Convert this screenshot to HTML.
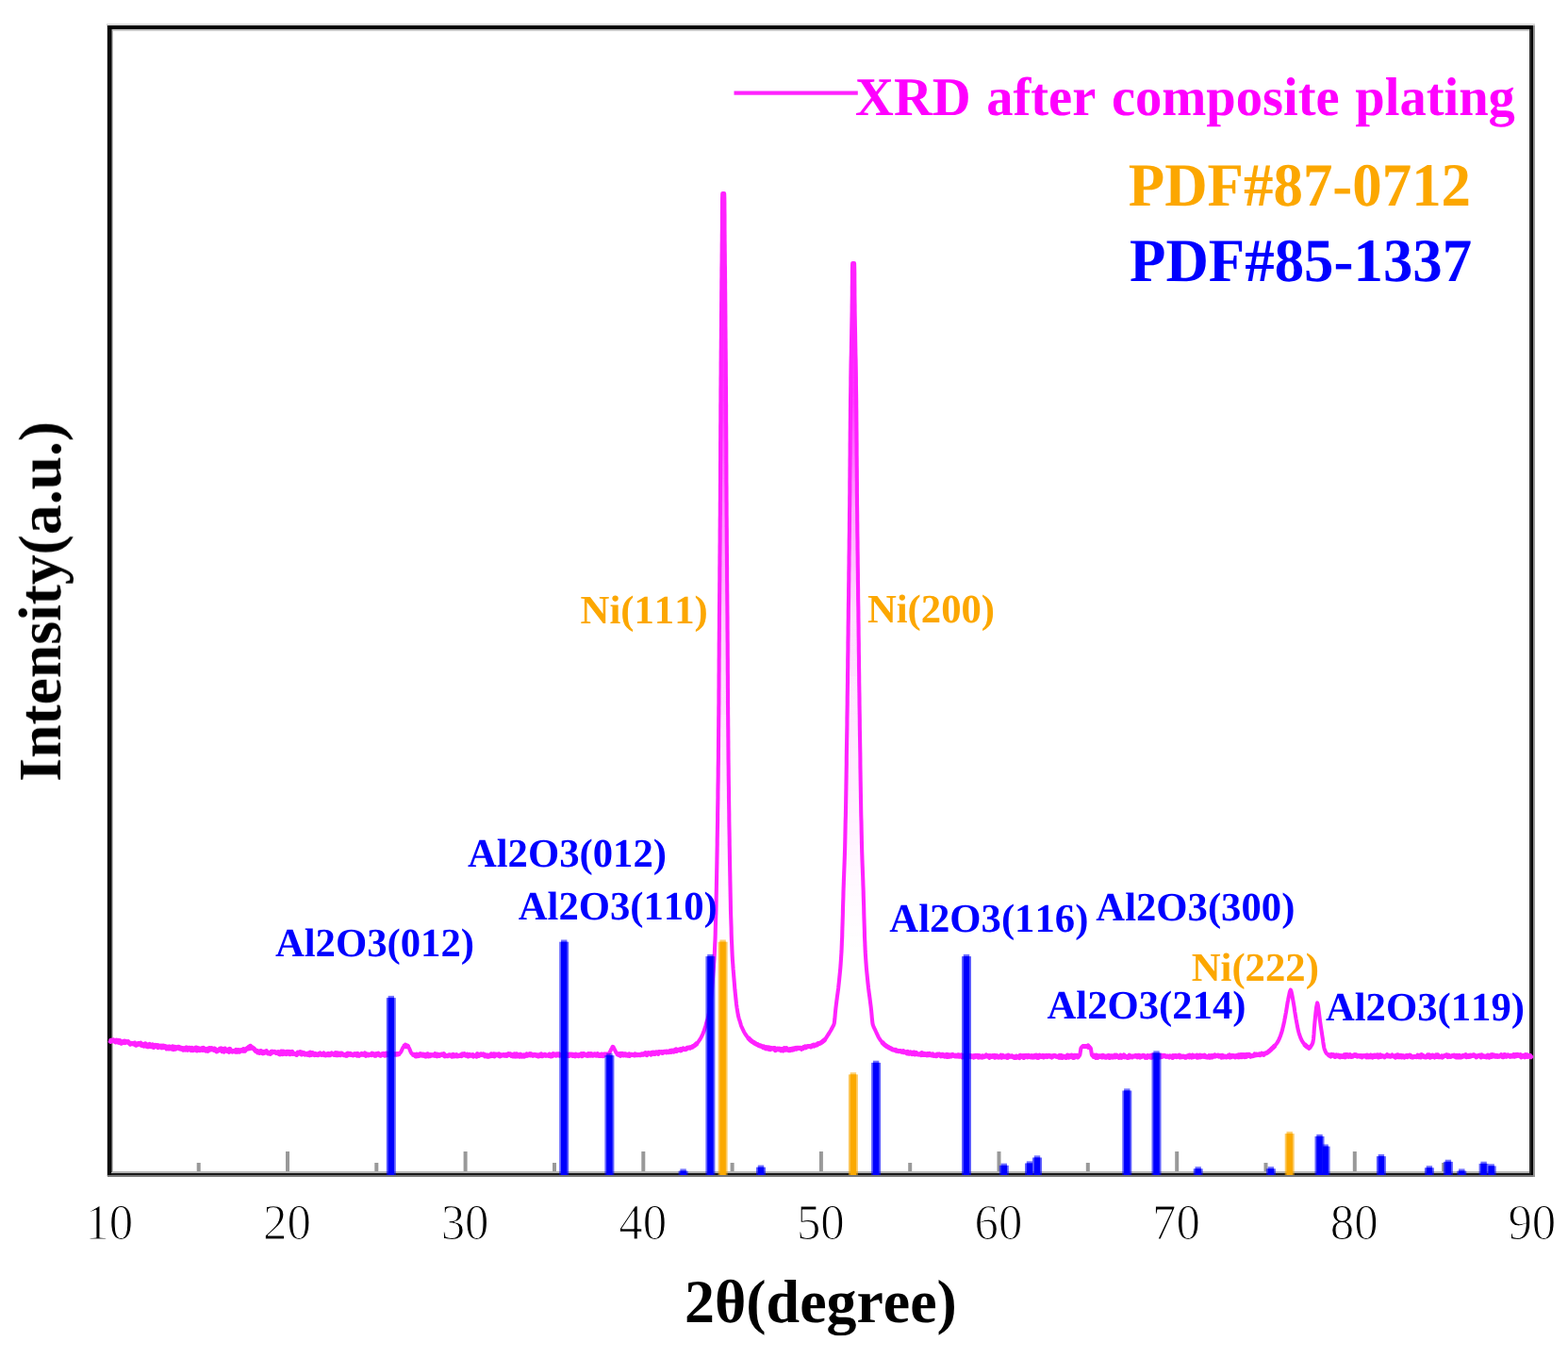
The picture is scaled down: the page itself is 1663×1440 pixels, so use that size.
<!DOCTYPE html>
<html lang="en">
<head>
<meta charset="utf-8">
<title>XRD after composite plating</title>
<style>
html,body{margin:0;padding:0;background:#fff;}
body{width:1663px;height:1440px;overflow:hidden;}
svg{display:block;}
svg text{font-family:"Liberation Serif","DejaVu Serif",serif;font-kerning:none;text-rendering:geometricPrecision;}
</style>
</head>
<body>
<svg width="1663" height="1440" viewBox="0 0 1663 1440">
<rect x="0" y="0" width="1663" height="1440" fill="#fff"/>
<g id="ticks">
<rect x="208.7" y="1233.0" width="4" height="10.0" fill="#999"/>
<rect x="303.0" y="1221.0" width="4" height="22.0" fill="#999"/>
<rect x="397.3" y="1233.0" width="4" height="10.0" fill="#999"/>
<rect x="491.6" y="1221.0" width="4" height="22.0" fill="#999"/>
<rect x="586.0" y="1233.0" width="4" height="10.0" fill="#999"/>
<rect x="680.3" y="1221.0" width="4" height="22.0" fill="#999"/>
<rect x="774.6" y="1233.0" width="4" height="10.0" fill="#999"/>
<rect x="868.9" y="1221.0" width="4" height="22.0" fill="#999"/>
<rect x="963.2" y="1233.0" width="4" height="10.0" fill="#999"/>
<rect x="1057.5" y="1221.0" width="4" height="22.0" fill="#999"/>
<rect x="1151.8" y="1233.0" width="4" height="10.0" fill="#999"/>
<rect x="1246.2" y="1221.0" width="4" height="22.0" fill="#999"/>
<rect x="1340.5" y="1233.0" width="4" height="10.0" fill="#999"/>
<rect x="1434.8" y="1221.0" width="4" height="22.0" fill="#999"/>
<rect x="1529.1" y="1233.0" width="4" height="10.0" fill="#999"/>
</g>
<g id="frame" shape-rendering="crispEdges">
<rect x="113" y="25" width="1515" height="2" fill="#d8d8d8"/>
<rect x="113" y="31" width="1515" height="2" fill="#c8c8c8"/>
<rect x="114" y="1242" width="1512" height="2" fill="#b5b5b5"/>
<rect x="114" y="1244" width="1513" height="2" fill="#1a1a1a"/>
<rect x="114" y="1246" width="1514" height="2" fill="#7a7a7a"/>
<rect x="113" y="26" width="1" height="1221" fill="#d0d0d0"/>
<rect x="119" y="31" width="1" height="1211" fill="#bdbdbd"/>
<rect x="118" y="31" width="1" height="1212" fill="#5a5a5a"/>
<rect x="114" y="27" width="4" height="1219" fill="#0a0a0a"/>
<rect x="114" y="27" width="1514" height="4" fill="#000"/>
<rect x="1622" y="31" width="2" height="1213" fill="#303030"/>
<rect x="1624" y="27" width="2" height="1219" fill="#000"/>
<rect x="1626" y="27" width="2" height="1221" fill="#959595"/>
</g>
<g id="legend-line"><rect x="778.5" y="96.5" width="131.3" height="4.2" fill="#ff22ff"/></g>
<defs>
<filter id="soft" x="-5%" y="-5%" width="110%" height="110%"><feGaussianBlur stdDeviation="0.55"/></filter>
<linearGradient id="g1" gradientUnits="userSpaceOnUse" x1="0" y1="205" x2="0" y2="1012">
<stop offset="0" stop-color="#ff22ff" stop-opacity="1"/>
<stop offset="0.27" stop-color="#ff22ff" stop-opacity="0.9"/>
<stop offset="0.415" stop-color="#ff22ff" stop-opacity="0.5"/>
<stop offset="0.565" stop-color="#ff22ff" stop-opacity="0.22"/>
<stop offset="0.71" stop-color="#ff22ff" stop-opacity="0.09"/>
<stop offset="0.86" stop-color="#ff22ff" stop-opacity="0.04"/>
<stop offset="1" stop-color="#ff22ff" stop-opacity="0"/>
</linearGradient>
<linearGradient id="g2" gradientUnits="userSpaceOnUse" x1="0" y1="279" x2="0" y2="1009">
<stop offset="0" stop-color="#ff22ff" stop-opacity="1"/>
<stop offset="0.19" stop-color="#ff22ff" stop-opacity="0.9"/>
<stop offset="0.36" stop-color="#ff22ff" stop-opacity="0.36"/>
<stop offset="0.52" stop-color="#ff22ff" stop-opacity="0.14"/>
<stop offset="0.69" stop-color="#ff22ff" stop-opacity="0.08"/>
<stop offset="0.85" stop-color="#ff22ff" stop-opacity="0.04"/>
<stop offset="1" stop-color="#ff22ff" stop-opacity="0"/>
</linearGradient>
</defs>
<g id="trace" filter="url(#soft)">
<path d="M766.3 205.0 L765.8 250.0 L765.0 340.0 L764.4 420.0 L763.8 540.0 L762.9 660.0 L762.1 780.0 L760.6 900.0 L759.5 960.0 L757.8 1012.0 L776.6 1012.0 L774.9 960.0 L773.8 900.0 L772.3 780.0 L771.5 660.0 L770.6 540.0 L770.0 420.0 L769.4 340.0 L768.6 250.0 L768.1 205.0Z" fill="url(#g1)"/>
<path d="M904.2 279.0 L903.7 320.0 L902.1 420.0 L901.1 540.0 L899.7 660.0 L898.2 780.0 L896.1 900.0 L894.7 940.0 L892.5 1009.0 L917.7 1009.0 L915.5 940.0 L914.1 900.0 L912.0 780.0 L910.5 660.0 L909.1 540.0 L908.1 420.0 L906.5 320.0 L906.0 279.0Z" fill="url(#g2)"/>
<path id="xrd" d="M115.6 1102.9 L116.4 1103.3 L117.2 1104.3 L117.9 1103.3 L118.7 1103.5 L119.5 1103.8 L120.3 1102.9 L121.1 1103.9 L121.8 1104.3 L122.6 1104.8 L123.4 1103.1 L124.2 1103.8 L125.0 1103.3 L125.8 1105.3 L126.5 1105.1 L127.3 1103.6 L128.0 1106.1 L128.8 1106.2 L129.6 1105.5 L130.3 1105.5 L131.1 1104.4 L131.9 1104.1 L132.7 1105.6 L133.4 1104.4 L134.2 1104.9 L135.0 1105.1 L135.8 1104.6 L136.5 1105.9 L137.3 1105.9 L138.1 1107.1 L138.9 1106.3 L139.7 1106.7 L140.4 1106.4 L141.2 1106.9 L142.0 1106.4 L142.8 1106.0 L143.6 1108.1 L144.4 1108.2 L145.2 1107.8 L146.0 1107.6 L146.7 1106.6 L147.5 1106.5 L148.2 1106.7 L149.0 1106.2 L149.7 1108.2 L150.5 1107.3 L151.2 1108.6 L152.0 1107.5 L152.7 1109.1 L153.5 1108.9 L154.2 1106.8 L155.0 1107.4 L155.7 1109.4 L156.5 1108.3 L157.2 1109.8 L158.0 1108.3 L158.7 1107.5 L159.5 1109.1 L160.2 1109.6 L160.9 1108.3 L161.7 1107.9 L162.4 1108.7 L163.1 1110.5 L163.9 1110.0 L164.6 1108.4 L165.3 1108.8 L166.1 1108.5 L166.8 1108.5 L167.6 1110.6 L168.4 1108.9 L169.2 1110.1 L170.0 1109.9 L170.7 1109.2 L171.4 1110.8 L172.2 1109.1 L172.9 1110.7 L173.7 1109.2 L174.4 1110.2 L175.2 1109.6 L176.0 1109.9 L176.8 1112.0 L177.6 1111.5 L178.4 1110.1 L179.2 1111.9 L180.0 1110.0 L180.8 1110.6 L181.6 1112.0 L182.4 1111.4 L183.2 1109.9 L184.0 1112.6 L184.8 1110.3 L185.6 1110.5 L186.4 1112.1 L187.2 1110.8 L188.0 1110.8 L188.8 1110.2 L189.6 1110.3 L190.3 1111.8 L191.1 1110.8 L191.9 1112.0 L192.6 1111.3 L193.4 1111.6 L194.2 1113.2 L194.9 1111.8 L195.7 1112.1 L196.5 1113.0 L197.2 1111.0 L198.0 1110.9 L198.8 1113.3 L199.6 1113.1 L200.3 1111.3 L201.1 1111.2 L201.9 1113.0 L202.7 1113.6 L203.5 1111.3 L204.3 1113.7 L205.2 1113.6 L206.0 1112.7 L206.7 1112.2 L207.4 1111.2 L208.2 1111.0 L208.9 1114.0 L209.7 1111.7 L210.4 1113.2 L211.2 1111.9 L211.9 1113.7 L212.7 1113.0 L213.5 1112.1 L214.2 1111.7 L215.0 1113.5 L215.8 1111.4 L216.6 1112.0 L217.4 1113.1 L218.1 1114.0 L218.9 1113.3 L219.7 1112.3 L220.5 1114.3 L221.3 1112.1 L222.1 1111.5 L222.9 1112.3 L223.7 1112.9 L224.5 1111.7 L225.3 1112.1 L226.1 1112.8 L226.9 1113.4 L227.6 1112.0 L228.4 1112.8 L229.2 1114.5 L230.0 1114.9 L230.8 1113.8 L231.6 1114.0 L232.4 1113.6 L233.2 1112.2 L234.1 1111.9 L235.0 1111.9 L235.8 1114.8 L236.7 1114.1 L237.6 1115.0 L238.5 1112.0 L239.4 1114.0 L240.3 1113.5 L241.2 1114.4 L242.1 1113.1 L243.0 1115.3 L243.8 1112.3 L244.7 1113.9 L245.5 1114.5 L246.4 1115.1 L247.2 1114.5 L248.0 1114.5 L248.8 1114.8 L249.5 1115.2 L250.3 1113.4 L251.0 1114.5 L251.7 1115.2 L252.3 1115.1 L252.9 1113.6 L253.5 1114.9 L254.0 1115.1 L254.5 1114.1 L255.0 1114.3 L255.9 1113.5 L256.8 1114.1 L257.5 1114.2 L258.2 1112.6 L258.9 1114.1 L259.5 1114.3 L260.1 1113.6 L260.7 1113.0 L261.2 1112.5 L261.7 1111.9 L262.3 1111.6 L262.9 1111.3 L263.5 1111.8 L264.2 1110.0 L264.9 1111.7 L265.5 1109.3 L266.2 1111.2 L266.8 1111.0 L267.5 1110.7 L268.1 1111.6 L268.7 1111.6 L269.2 1111.9 L269.7 1112.5 L270.1 1113.1 L270.5 1113.7 L271.0 1114.3 L271.5 1114.6 L272.1 1114.5 L272.7 1114.3 L273.4 1116.0 L274.1 1115.6 L275.0 1115.1 L275.4 1116.4 L275.9 1114.9 L276.4 1115.9 L276.9 1114.6 L277.5 1115.3 L278.1 1116.5 L278.8 1116.9 L279.5 1116.8 L280.2 1115.3 L280.9 1116.0 L281.7 1115.2 L282.5 1114.7 L283.3 1115.8 L284.1 1116.9 L285.0 1117.0 L285.8 1116.6 L286.7 1117.4 L287.6 1115.3 L288.5 1115.0 L289.4 1115.9 L290.3 1115.4 L291.2 1115.3 L292.1 1115.9 L293.0 1116.6 L293.9 1116.3 L294.8 1115.7 L295.7 1117.4 L296.6 1117.9 L297.5 1116.3 L298.3 1115.1 L299.2 1115.0 L300.0 1117.7 L300.8 1115.1 L301.5 1117.2 L302.3 1116.8 L303.0 1116.0 L303.8 1117.6 L304.5 1115.2 L305.3 1115.6 L306.0 1116.6 L306.8 1115.3 L307.5 1117.8 L308.3 1116.0 L309.0 1115.7 L309.8 1115.4 L310.5 1117.3 L311.3 1116.8 L312.1 1117.4 L312.8 1117.5 L313.6 1118.0 L314.4 1118.5 L315.1 1117.7 L315.9 1116.2 L316.7 1117.1 L317.5 1116.1 L318.3 1115.6 L319.1 1117.1 L319.9 1117.9 L320.7 1116.2 L321.5 1116.6 L322.3 1116.8 L323.2 1118.0 L324.0 1117.4 L324.8 1117.8 L325.7 1118.2 L326.5 1117.1 L327.4 1118.4 L328.2 1118.8 L329.1 1116.1 L330.0 1118.5 L330.7 1118.1 L331.4 1116.6 L332.1 1117.4 L332.8 1117.9 L333.5 1118.6 L334.3 1117.3 L335.0 1117.8 L335.8 1118.5 L336.5 1118.3 L337.3 1118.7 L338.0 1117.6 L338.8 1118.0 L339.6 1116.9 L340.4 1118.2 L341.1 1118.5 L341.9 1118.0 L342.7 1118.2 L343.5 1117.0 L344.3 1118.7 L345.1 1118.9 L345.9 1118.9 L346.8 1117.9 L347.6 1118.5 L348.4 1117.4 L349.2 1118.8 L350.0 1118.7 L350.9 1117.5 L351.7 1116.8 L352.5 1117.7 L353.4 1118.0 L354.2 1118.5 L355.0 1117.9 L355.9 1116.7 L356.7 1118.7 L357.5 1116.8 L358.4 1118.7 L359.2 1117.1 L360.0 1117.5 L360.9 1118.7 L361.7 1117.1 L362.5 1117.1 L363.4 1118.0 L364.2 1118.5 L365.0 1118.8 L365.8 1118.5 L366.7 1119.1 L367.5 1118.0 L368.3 1119.1 L369.1 1117.0 L369.9 1117.4 L370.7 1118.1 L371.5 1117.5 L372.3 1118.6 L373.1 1118.4 L373.9 1118.1 L374.7 1118.9 L375.5 1118.2 L376.2 1117.6 L377.0 1117.8 L377.8 1118.9 L378.5 1119.1 L379.3 1117.4 L380.0 1119.0 L380.9 1119.3 L381.7 1118.2 L382.6 1118.3 L383.5 1117.4 L384.4 1118.2 L385.3 1118.1 L386.2 1118.4 L387.1 1117.0 L388.1 1119.3 L389.0 1118.2 L389.9 1117.9 L390.9 1118.9 L391.8 1118.3 L392.8 1118.1 L393.7 1118.6 L394.7 1117.1 L395.6 1118.2 L396.5 1117.9 L397.5 1119.3 L398.4 1119.2 L399.3 1117.6 L400.2 1118.1 L401.2 1117.2 L402.0 1118.0 L402.9 1119.0 L403.8 1119.2 L404.7 1118.1 L405.5 1117.7 L406.4 1117.4 L407.2 1118.5 L408.0 1119.2 L408.8 1117.3 L409.5 1118.9 L410.3 1117.0 L411.0 1117.4 L411.7 1117.5 L412.4 1118.7 L413.0 1117.8 L413.7 1117.8 L414.3 1118.5 L414.8 1117.2 L415.4 1118.8 L415.9 1117.3 L416.4 1118.2 L416.8 1117.6 L417.3 1117.4 L417.6 1118.3 L418.0 1118.0 L418.9 1117.9 L419.6 1118.0 L420.3 1118.2 L420.9 1117.4 L421.5 1117.5 L422.1 1118.0 L422.8 1117.7 L423.4 1117.3 L424.0 1116.9 L424.5 1116.5 L425.4 1115.1 L426.2 1113.3 L427.0 1111.6 L427.4 1110.9 L427.9 1110.1 L428.4 1109.5 L428.9 1109.0 L429.4 1109.2 L430.1 1108.2 L430.9 1109.8 L431.6 1109.2 L432.1 1109.0 L432.6 1109.5 L433.1 1110.1 L433.6 1110.9 L434.0 1111.6 L434.8 1113.4 L435.6 1115.4 L436.5 1117.0 L437.0 1117.5 L437.6 1118.0 L438.2 1118.4 L438.9 1118.2 L439.5 1118.4 L440.1 1119.2 L440.7 1119.8 L441.4 1120.0 L442.1 1118.0 L443.0 1118.9 L443.4 1119.5 L443.7 1118.9 L444.2 1119.4 L444.6 1118.1 L445.1 1117.8 L445.6 1117.9 L446.2 1117.7 L446.7 1119.0 L447.3 1118.9 L447.9 1119.1 L448.6 1118.0 L449.3 1118.1 L449.9 1118.2 L450.7 1119.8 L451.4 1120.1 L452.1 1120.0 L452.9 1117.9 L453.7 1117.8 L454.5 1120.0 L455.3 1118.8 L456.2 1119.6 L457.0 1118.5 L457.9 1118.8 L458.8 1118.9 L459.7 1118.7 L460.6 1119.2 L461.5 1117.7 L462.4 1119.4 L463.3 1119.8 L464.2 1118.1 L465.2 1118.8 L466.1 1119.5 L467.0 1118.7 L468.0 1118.1 L468.9 1118.1 L469.9 1118.9 L470.8 1117.7 L471.8 1119.9 L472.7 1119.7 L473.6 1119.4 L474.6 1119.8 L475.5 1119.2 L476.4 1118.7 L477.3 1119.1 L478.2 1118.9 L479.1 1120.1 L480.0 1119.7 L480.7 1118.3 L481.4 1119.9 L482.1 1119.5 L482.8 1119.6 L483.6 1119.7 L484.3 1118.7 L485.0 1119.9 L485.8 1119.8 L486.5 1119.4 L487.3 1119.6 L488.0 1119.6 L488.8 1118.7 L489.5 1119.5 L490.3 1117.8 L491.0 1118.5 L491.8 1118.8 L492.6 1117.7 L493.4 1118.5 L494.1 1119.2 L494.9 1119.2 L495.7 1118.2 L496.5 1120.0 L497.3 1119.3 L498.1 1118.5 L498.9 1119.3 L499.7 1119.1 L500.5 1119.0 L501.3 1118.6 L502.1 1120.1 L502.9 1119.3 L503.7 1119.4 L504.6 1119.6 L505.4 1120.1 L506.2 1117.7 L507.0 1119.2 L507.8 1119.5 L508.7 1118.3 L509.5 1118.7 L510.3 1117.8 L511.1 1118.1 L512.0 1118.6 L512.8 1117.9 L513.6 1118.3 L514.5 1119.9 L515.3 1119.0 L516.1 1118.9 L516.9 1120.1 L517.8 1119.1 L518.6 1120.1 L519.4 1119.2 L520.3 1119.7 L521.1 1117.8 L521.9 1119.1 L522.8 1119.5 L523.6 1117.8 L524.4 1120.0 L525.3 1118.0 L526.1 1118.8 L526.9 1118.1 L527.8 1118.9 L528.6 1119.2 L529.4 1117.8 L530.2 1120.0 L531.1 1118.7 L531.9 1119.0 L532.7 1119.1 L533.5 1118.6 L534.3 1118.4 L535.2 1119.3 L536.0 1119.1 L536.8 1118.4 L537.6 1119.4 L538.4 1118.4 L539.2 1117.7 L540.0 1118.3 L540.8 1117.8 L541.6 1118.0 L542.4 1119.5 L543.2 1118.6 L544.0 1119.9 L544.8 1119.5 L545.6 1117.8 L546.4 1120.1 L547.2 1120.0 L548.0 1117.8 L548.8 1119.9 L549.6 1118.7 L550.4 1118.8 L551.2 1120.1 L552.0 1118.2 L552.9 1118.9 L553.7 1120.0 L554.5 1119.4 L555.3 1118.8 L556.1 1120.1 L556.9 1119.7 L557.7 1119.1 L558.6 1117.9 L559.4 1119.2 L560.2 1118.8 L561.0 1118.1 L561.8 1117.7 L562.6 1118.9 L563.5 1117.9 L564.3 1118.7 L565.1 1119.3 L565.9 1118.7 L566.7 1118.3 L567.5 1119.0 L568.3 1118.6 L569.2 1119.5 L570.0 1118.9 L570.8 1120.1 L571.6 1119.9 L572.4 1119.4 L573.2 1118.2 L574.0 1117.9 L574.8 1119.8 L575.6 1119.5 L576.4 1119.1 L577.2 1118.5 L578.0 1118.2 L578.8 1119.3 L579.6 1119.0 L580.4 1119.0 L581.2 1119.1 L582.0 1119.4 L582.8 1118.0 L583.5 1118.1 L584.3 1120.0 L585.1 1119.8 L585.9 1119.7 L586.7 1117.6 L587.4 1117.7 L588.2 1118.2 L589.0 1118.6 L589.7 1119.1 L590.5 1117.8 L591.2 1118.8 L592.0 1117.7 L592.7 1117.7 L593.5 1119.2 L594.2 1118.9 L594.9 1119.0 L595.7 1118.4 L596.4 1118.7 L597.1 1118.0 L597.9 1118.3 L598.6 1119.3 L599.3 1119.5 L600.0 1117.6 L600.9 1117.8 L601.7 1119.5 L602.6 1119.0 L603.5 1119.4 L604.4 1118.0 L605.3 1118.5 L606.2 1118.1 L607.2 1119.4 L608.1 1118.3 L609.0 1119.1 L609.9 1119.9 L610.9 1118.2 L611.8 1118.8 L612.7 1119.3 L613.6 1119.7 L614.6 1118.5 L615.5 1118.3 L616.4 1117.6 L617.3 1119.6 L618.3 1117.6 L619.2 1117.6 L620.1 1118.8 L621.0 1118.6 L621.9 1119.1 L622.7 1118.1 L623.6 1119.3 L624.5 1117.6 L625.3 1117.9 L626.1 1119.0 L627.0 1117.6 L627.8 1118.1 L628.6 1119.2 L629.4 1119.1 L630.1 1118.1 L630.9 1117.7 L631.6 1118.2 L632.3 1119.1 L633.0 1118.2 L633.7 1117.6 L634.4 1119.1 L635.0 1118.7 L635.6 1119.6 L636.2 1119.6 L636.8 1119.6 L637.3 1118.4 L637.8 1119.3 L638.3 1118.0 L638.8 1118.1 L639.2 1118.3 L639.6 1119.6 L640.0 1119.4 L641.0 1117.9 L641.8 1118.1 L642.6 1118.1 L643.3 1118.1 L643.9 1118.1 L644.5 1118.1 L645.1 1117.9 L645.6 1117.4 L646.1 1116.7 L646.6 1116.0 L647.3 1114.7 L647.9 1113.2 L648.6 1112.0 L649.1 1111.5 L649.5 1111.2 L650.0 1110.4 L650.5 1111.0 L650.9 1111.5 L651.4 1112.0 L652.1 1113.2 L652.7 1114.7 L653.4 1116.0 L653.8 1116.6 L654.3 1117.2 L654.8 1117.7 L655.4 1118.2 L656.0 1117.8 L656.6 1117.6 L657.2 1118.9 L657.9 1119.3 L658.6 1117.4 L659.4 1118.7 L660.3 1117.5 L661.1 1119.0 L662.0 1118.8 L662.6 1117.8 L663.3 1117.7 L664.0 1119.0 L664.7 1118.4 L665.4 1119.0 L666.2 1118.1 L667.0 1117.9 L667.7 1119.4 L668.6 1118.6 L669.4 1118.2 L670.2 1118.2 L671.0 1118.6 L671.9 1118.6 L672.7 1119.0 L673.5 1117.8 L674.4 1118.7 L675.2 1118.3 L676.0 1118.7 L676.7 1118.6 L677.5 1118.6 L678.3 1118.7 L679.0 1118.8 L679.8 1118.1 L680.6 1117.8 L681.3 1118.2 L682.1 1118.3 L682.9 1117.4 L683.7 1117.4 L684.5 1116.7 L685.3 1118.0 L686.0 1118.6 L686.8 1117.1 L687.6 1116.6 L688.3 1116.7 L689.1 1117.1 L689.8 1116.8 L690.6 1118.2 L691.3 1116.2 L692.0 1116.7 L692.8 1116.2 L693.6 1117.3 L694.4 1117.5 L695.1 1116.2 L695.9 1115.9 L696.6 1116.6 L697.4 1116.8 L698.1 1117.4 L698.8 1115.5 L699.6 1115.6 L700.3 1115.7 L701.0 1115.7 L701.8 1115.6 L702.5 1116.5 L703.3 1116.2 L704.0 1115.4 L704.8 1115.2 L705.5 1115.3 L706.3 1115.0 L707.0 1115.9 L707.8 1115.0 L708.5 1115.3 L709.3 1115.7 L710.0 1114.9 L710.8 1114.4 L711.5 1115.4 L712.3 1115.3 L713.0 1114.1 L713.8 1114.4 L714.5 1115.0 L715.2 1114.0 L716.0 1113.4 L716.8 1112.9 L717.5 1114.5 L718.3 1114.1 L719.1 1113.2 L719.9 1113.4 L720.7 1113.3 L721.5 1112.7 L722.2 1113.9 L723.0 1113.2 L723.8 1112.3 L724.5 1111.8 L725.3 1112.5 L726.0 1112.2 L726.7 1112.8 L727.4 1112.5 L728.0 1112.2 L728.9 1111.3 L729.7 1111.1 L730.5 1111.1 L731.3 1110.8 L732.1 1111.2 L732.8 1110.6 L733.5 1110.4 L734.2 1110.3 L734.8 1109.6 L735.5 1109.3 L736.2 1108.9 L736.8 1108.5 L737.4 1108.0 L738.0 1107.5 L738.5 1107.0 L739.1 1106.5 L739.6 1106.0 L740.1 1105.4 L740.5 1104.8 L741.0 1104.2 L741.9 1102.9 L742.7 1101.6 L743.5 1100.2 L744.2 1098.8 L744.9 1097.4 L745.5 1096.0 L746.1 1094.5 L746.7 1093.0 L747.2 1091.5 L747.8 1089.7 L748.4 1088.0 L748.7 1086.7 L749.0 1085.4 L749.4 1084.0 L749.8 1082.6 L750.3 1081.2 L750.8 1079.6 L751.2 1078.0 L751.6 1076.3 L751.9 1074.5 L752.2 1072.7 L752.5 1070.8 L752.8 1069.0 L753.4 1064.7 L753.9 1060.0 L754.4 1055.1 L755.0 1049.3 L755.5 1043.1 L756.0 1037.0 L756.4 1032.2 L756.8 1027.5 L757.1 1022.7 L757.5 1017.6 L757.8 1012.0 L758.0 1007.1 L758.2 1001.8 L758.5 996.3 L758.7 990.4 L758.8 984.5 L759.0 978.3 L759.2 972.2 L759.4 966.0 L759.5 960.0 L759.6 954.8 L759.7 949.6 L759.8 944.5 L759.9 939.3 L760.0 934.1 L760.1 928.8 L760.2 923.4 L760.3 917.9 L760.4 912.1 L760.5 906.2 L760.6 900.0 L760.7 895.2 L760.7 890.3 L760.8 885.1 L760.9 879.8 L761.0 874.4 L761.1 868.9 L761.1 863.2 L761.2 857.4 L761.3 851.6 L761.4 845.7 L761.4 839.7 L761.5 833.7 L761.6 827.7 L761.7 821.6 L761.7 815.5 L761.8 809.5 L761.9 803.5 L761.9 797.5 L762.0 791.6 L762.0 785.8 L762.1 780.0 L762.1 774.3 L762.2 768.6 L762.2 762.9 L762.3 757.1 L762.3 751.4 L762.4 745.7 L762.4 740.0 L762.4 734.3 L762.5 728.6 L762.5 722.9 L762.5 717.1 L762.6 711.4 L762.6 705.7 L762.6 700.0 L762.7 694.3 L762.7 688.6 L762.7 682.9 L762.8 677.1 L762.8 671.4 L762.9 665.7 L762.9 660.0 L762.9 654.3 L763.0 648.6 L763.0 642.9 L763.1 637.1 L763.1 631.4 L763.2 625.7 L763.2 620.0 L763.3 614.3 L763.3 608.6 L763.3 602.9 L763.4 597.1 L763.4 591.4 L763.5 585.7 L763.5 580.0 L763.6 574.3 L763.6 568.6 L763.6 562.9 L763.7 557.1 L763.7 551.4 L763.8 545.7 L763.8 540.0 L763.8 534.3 L763.9 528.5 L763.9 522.6 L763.9 516.8 L764.0 510.9 L764.0 505.0 L764.0 499.1 L764.0 493.2 L764.1 487.3 L764.1 481.4 L764.1 475.5 L764.1 469.7 L764.2 463.9 L764.2 458.1 L764.2 452.5 L764.3 446.8 L764.3 441.3 L764.3 435.8 L764.3 430.5 L764.4 425.2 L764.4 420.0 L764.4 413.8 L764.5 407.8 L764.5 401.9 L764.6 396.1 L764.6 390.5 L764.6 384.9 L764.7 379.3 L764.7 373.8 L764.8 368.3 L764.8 362.7 L764.9 357.2 L764.9 351.5 L765.0 345.8 L765.0 340.0 L765.0 334.5 L765.1 328.8 L765.1 323.0 L765.2 317.1 L765.2 311.2 L765.3 305.2 L765.3 299.3 L765.4 293.3 L765.4 287.4 L765.5 281.6 L765.6 275.9 L765.6 270.4 L765.7 265.0 L765.7 259.7 L765.8 254.7 L765.8 250.0 L765.9 243.1 L765.9 235.6 L765.9 228.1 L766.0 221.0 L766.0 214.6 L766.1 209.6 L766.2 206.2 L766.3 205.0 L766.8 205.0 L767.6 205.0 L768.1 205.0 L768.2 206.2 L768.3 209.6 L768.4 214.6 L768.4 221.0 L768.5 228.1 L768.5 235.6 L768.5 243.1 L768.6 250.0 L768.6 254.7 L768.7 259.7 L768.7 265.0 L768.8 270.4 L768.8 275.9 L768.9 281.6 L769.0 287.4 L769.0 293.3 L769.1 299.3 L769.1 305.2 L769.2 311.2 L769.2 317.1 L769.3 323.0 L769.3 328.8 L769.4 334.5 L769.4 340.0 L769.4 345.8 L769.5 351.5 L769.5 357.2 L769.6 362.7 L769.6 368.3 L769.7 373.8 L769.7 379.3 L769.8 384.9 L769.8 390.5 L769.8 396.1 L769.9 401.9 L769.9 407.8 L770.0 413.8 L770.0 420.0 L770.0 425.2 L770.1 430.5 L770.1 435.8 L770.1 441.3 L770.1 446.8 L770.2 452.5 L770.2 458.1 L770.2 463.9 L770.3 469.7 L770.3 475.5 L770.3 481.4 L770.3 487.3 L770.4 493.2 L770.4 499.1 L770.4 505.0 L770.4 510.9 L770.5 516.8 L770.5 522.6 L770.5 528.5 L770.6 534.3 L770.6 540.0 L770.6 545.7 L770.7 551.4 L770.7 557.1 L770.8 562.9 L770.8 568.6 L770.8 574.3 L770.9 580.0 L770.9 585.7 L771.0 591.4 L771.0 597.1 L771.1 602.9 L771.1 608.6 L771.1 614.3 L771.2 620.0 L771.2 625.7 L771.3 631.4 L771.3 637.1 L771.4 642.9 L771.4 648.6 L771.5 654.3 L771.5 660.0 L771.5 665.7 L771.6 671.4 L771.6 677.1 L771.7 682.9 L771.7 688.6 L771.7 694.3 L771.8 700.0 L771.8 705.7 L771.8 711.4 L771.9 717.1 L771.9 722.9 L771.9 728.6 L772.0 734.3 L772.0 740.0 L772.0 745.7 L772.1 751.4 L772.1 757.1 L772.2 762.9 L772.2 768.6 L772.3 774.3 L772.3 780.0 L772.4 785.8 L772.4 791.6 L772.5 797.5 L772.5 803.5 L772.6 809.5 L772.7 815.5 L772.7 821.6 L772.8 827.7 L772.9 833.7 L773.0 839.7 L773.0 845.7 L773.1 851.6 L773.2 857.4 L773.3 863.2 L773.3 868.9 L773.4 874.4 L773.5 879.8 L773.6 885.1 L773.7 890.3 L773.7 895.2 L773.8 900.0 L773.9 906.2 L774.0 912.1 L774.1 917.9 L774.2 923.4 L774.3 928.8 L774.4 934.1 L774.5 939.3 L774.6 944.5 L774.7 949.6 L774.8 954.8 L774.9 960.0 L775.0 966.0 L775.2 972.2 L775.4 978.3 L775.6 984.5 L775.7 990.4 L775.9 996.3 L776.2 1001.8 L776.4 1007.1 L776.6 1012.0 L776.9 1017.6 L777.3 1022.7 L777.6 1027.5 L778.0 1032.2 L778.4 1037.0 L778.9 1043.1 L779.4 1049.3 L780.0 1055.1 L780.5 1060.0 L781.0 1064.7 L781.6 1069.0 L781.9 1070.8 L782.2 1072.7 L782.5 1074.5 L782.8 1076.3 L783.2 1078.0 L783.6 1079.6 L784.1 1081.2 L784.6 1082.6 L785.0 1084.0 L785.4 1085.4 L785.8 1086.8 L786.2 1088.0 L786.8 1089.3 L787.4 1090.6 L788.1 1092.2 L789.0 1094.0 L790.0 1095.8 L790.4 1096.4 L790.8 1097.0 L791.2 1097.6 L791.7 1098.2 L792.1 1098.9 L792.6 1099.5 L793.2 1100.1 L793.7 1100.7 L794.3 1101.3 L794.8 1101.9 L795.4 1102.5 L796.0 1103.0 L796.5 1103.5 L797.1 1103.9 L797.7 1104.4 L798.3 1104.8 L799.0 1105.2 L799.6 1105.6 L800.3 1106.1 L800.9 1106.4 L801.6 1106.9 L802.3 1107.1 L803.0 1107.5 L803.7 1107.7 L804.3 1108.3 L805.0 1108.7 L805.7 1109.0 L806.5 1108.7 L807.2 1109.3 L807.9 1109.6 L808.6 1109.7 L809.4 1110.7 L810.1 1109.9 L810.9 1110.7 L811.6 1111.3 L812.4 1111.8 L813.2 1110.7 L814.0 1111.3 L814.7 1112.0 L815.4 1110.8 L816.1 1111.3 L816.9 1112.6 L817.7 1111.3 L818.4 1111.9 L819.2 1111.8 L820.0 1112.1 L820.8 1111.5 L821.5 1111.4 L822.3 1113.6 L823.1 1113.1 L823.8 1113.1 L824.6 1112.0 L825.3 1112.1 L826.0 1112.8 L826.8 1112.1 L827.6 1112.6 L828.3 1113.8 L829.1 1112.4 L829.8 1112.4 L830.6 1114.0 L831.3 1113.1 L832.0 1111.7 L832.8 1112.6 L833.5 1113.2 L834.3 1111.7 L835.0 1112.4 L835.8 1113.3 L836.5 1113.6 L837.3 1112.9 L838.0 1113.5 L838.8 1112.5 L839.5 1112.3 L840.3 1113.2 L841.0 1112.2 L841.8 1112.9 L842.5 1111.7 L843.3 1111.9 L844.0 1111.4 L844.8 1112.1 L845.5 1111.3 L846.3 1111.3 L847.0 1111.2 L847.8 1111.6 L848.5 1111.2 L849.3 1111.4 L850.0 1112.3 L850.8 1111.6 L851.5 1111.8 L852.3 1110.5 L853.0 1110.7 L853.8 1110.0 L854.5 1110.9 L855.3 1110.2 L856.1 1109.9 L856.9 1109.4 L857.6 1109.4 L858.4 1109.4 L859.1 1109.4 L859.9 1110.0 L860.6 1109.5 L861.3 1108.7 L862.0 1108.6 L862.8 1108.1 L863.6 1109.0 L864.4 1108.0 L865.1 1108.3 L865.8 1108.0 L866.5 1108.0 L867.3 1106.8 L868.0 1106.9 L868.6 1106.7 L869.3 1106.2 L870.0 1106.1 L870.6 1105.7 L871.3 1105.3 L871.9 1104.8 L872.5 1104.4 L873.1 1103.9 L873.7 1103.5 L874.2 1103.0 L874.7 1102.5 L875.2 1102.0 L875.6 1101.4 L876.0 1100.8 L876.4 1100.2 L876.8 1099.5 L877.2 1098.9 L877.6 1098.2 L878.0 1097.6 L878.4 1097.0 L879.4 1095.5 L880.3 1094.0 L881.2 1092.5 L882.0 1091.0 L882.8 1089.5 L883.6 1088.1 L884.3 1086.6 L884.8 1085.0 L885.3 1080.8 L885.7 1076.0 L886.1 1071.8 L886.6 1067.3 L887.2 1062.5 L887.8 1057.7 L888.5 1052.7 L889.2 1047.3 L889.8 1041.7 L890.3 1036.8 L890.8 1031.8 L891.3 1026.5 L891.7 1021.0 L892.1 1015.2 L892.5 1009.0 L892.7 1004.1 L892.9 998.8 L893.2 993.2 L893.3 987.3 L893.5 981.2 L893.7 975.0 L893.9 968.7 L894.0 962.6 L894.2 956.5 L894.4 950.7 L894.5 945.2 L894.7 940.0 L894.9 933.9 L895.1 928.4 L895.3 923.1 L895.5 917.9 L895.7 912.5 L895.9 906.6 L896.1 900.0 L896.2 895.8 L896.3 891.2 L896.4 886.4 L896.5 881.4 L896.6 876.2 L896.7 870.7 L896.9 865.1 L897.0 859.3 L897.1 853.4 L897.2 847.3 L897.3 841.2 L897.4 835.0 L897.5 828.8 L897.6 822.5 L897.7 816.3 L897.8 810.0 L897.8 803.9 L897.9 797.7 L898.0 791.7 L898.1 785.8 L898.2 780.0 L898.3 774.3 L898.4 768.6 L898.4 762.9 L898.5 757.1 L898.6 751.4 L898.7 745.7 L898.7 740.0 L898.8 734.3 L898.9 728.6 L899.0 722.9 L899.0 717.1 L899.1 711.4 L899.2 705.7 L899.2 700.0 L899.3 694.3 L899.4 688.6 L899.4 682.9 L899.5 677.1 L899.6 671.4 L899.6 665.7 L899.7 660.0 L899.8 654.3 L899.8 648.6 L899.9 642.9 L900.0 637.1 L900.1 631.4 L900.1 625.7 L900.2 620.0 L900.3 614.3 L900.3 608.6 L900.4 602.9 L900.5 597.1 L900.5 591.4 L900.6 585.7 L900.7 580.0 L900.7 574.3 L900.8 568.6 L900.9 562.9 L900.9 557.1 L901.0 551.4 L901.0 545.7 L901.1 540.0 L901.2 534.3 L901.2 528.5 L901.3 522.8 L901.3 517.0 L901.3 511.2 L901.4 505.4 L901.4 499.6 L901.5 493.8 L901.5 488.0 L901.6 482.2 L901.6 476.4 L901.6 470.7 L901.7 464.9 L901.7 459.2 L901.8 453.5 L901.8 447.8 L901.9 442.2 L901.9 436.6 L902.0 431.0 L902.0 425.5 L902.1 420.0 L902.2 413.8 L902.3 407.5 L902.3 401.2 L902.4 394.9 L902.5 388.5 L902.6 382.2 L902.8 375.9 L902.9 369.6 L903.0 363.5 L903.1 357.4 L903.2 351.5 L903.3 345.7 L903.4 340.2 L903.5 334.8 L903.6 329.6 L903.6 324.7 L903.7 320.0 L903.8 312.6 L903.8 304.7 L903.9 297.0 L903.9 290.0 L904.0 284.3 L904.1 280.4 L904.2 279.0 L904.7 279.0 L905.5 279.0 L906.0 279.0 L906.1 280.4 L906.2 284.3 L906.3 290.0 L906.3 297.0 L906.4 304.7 L906.4 312.6 L906.5 320.0 L906.6 324.7 L906.6 329.6 L906.7 334.8 L906.8 340.2 L906.9 345.7 L907.0 351.5 L907.1 357.4 L907.2 363.5 L907.3 369.6 L907.4 375.9 L907.6 382.2 L907.7 388.5 L907.8 394.9 L907.9 401.2 L907.9 407.5 L908.0 413.8 L908.1 420.0 L908.2 425.5 L908.2 431.0 L908.3 436.6 L908.3 442.2 L908.4 447.8 L908.4 453.5 L908.5 459.2 L908.5 464.9 L908.6 470.7 L908.6 476.4 L908.6 482.2 L908.7 488.0 L908.7 493.8 L908.8 499.6 L908.8 505.4 L908.9 511.2 L908.9 517.0 L908.9 522.8 L909.0 528.5 L909.0 534.3 L909.1 540.0 L909.2 545.7 L909.2 551.4 L909.3 557.1 L909.3 562.9 L909.4 568.6 L909.5 574.3 L909.5 580.0 L909.6 585.7 L909.7 591.4 L909.7 597.1 L909.8 602.9 L909.9 608.6 L909.9 614.3 L910.0 620.0 L910.1 625.7 L910.1 631.4 L910.2 637.1 L910.3 642.9 L910.4 648.6 L910.4 654.3 L910.5 660.0 L910.6 665.7 L910.6 671.4 L910.7 677.1 L910.8 682.9 L910.8 688.6 L910.9 694.3 L911.0 700.0 L911.0 705.7 L911.1 711.4 L911.2 717.1 L911.2 722.9 L911.3 728.6 L911.4 734.3 L911.5 740.0 L911.5 745.7 L911.6 751.4 L911.7 757.1 L911.8 762.9 L911.8 768.6 L911.9 774.3 L912.0 780.0 L912.1 785.8 L912.2 791.7 L912.3 797.7 L912.4 803.9 L912.4 810.0 L912.5 816.3 L912.6 822.5 L912.7 828.8 L912.8 835.0 L912.9 841.2 L913.0 847.3 L913.1 853.4 L913.2 859.3 L913.3 865.1 L913.5 870.7 L913.6 876.2 L913.7 881.4 L913.8 886.4 L913.9 891.2 L914.0 895.8 L914.1 900.0 L914.3 906.6 L914.5 912.5 L914.7 917.9 L914.9 923.1 L915.1 928.4 L915.3 933.9 L915.5 940.0 L915.7 945.2 L915.8 950.7 L916.0 956.5 L916.2 962.6 L916.3 968.7 L916.5 975.0 L916.7 981.2 L916.9 987.3 L917.0 993.2 L917.3 998.8 L917.5 1004.1 L917.7 1009.0 L918.1 1015.2 L918.5 1021.0 L918.9 1026.5 L919.4 1031.8 L919.9 1036.8 L920.4 1041.7 L921.0 1047.3 L921.7 1052.7 L922.4 1057.7 L923.0 1062.5 L923.6 1067.3 L924.1 1071.8 L924.5 1076.0 L924.9 1080.6 L925.4 1085.0 L925.8 1086.8 L926.5 1088.6 L927.3 1090.4 L928.2 1092.2 L929.0 1094.0 L929.7 1095.5 L930.5 1097.1 L931.2 1098.7 L932.0 1100.2 L932.9 1101.7 L933.8 1103.0 L934.3 1103.6 L934.8 1104.2 L935.3 1104.8 L935.8 1105.4 L936.3 1106.0 L936.9 1106.6 L937.4 1107.1 L938.0 1107.6 L938.6 1108.1 L939.2 1108.6 L939.8 1109.0 L940.4 1109.4 L941.0 1109.8 L941.6 1110.2 L942.3 1110.5 L942.9 1110.9 L943.6 1111.2 L944.2 1111.6 L944.9 1111.7 L945.6 1112.2 L946.3 1112.8 L947.0 1113.0 L947.7 1113.1 L948.4 1113.2 L949.1 1113.5 L949.8 1113.2 L950.6 1114.3 L951.3 1114.3 L952.1 1114.2 L952.8 1114.7 L953.6 1114.5 L954.4 1114.6 L955.2 1114.5 L956.0 1115.3 L956.7 1115.3 L957.4 1115.4 L958.1 1114.6 L958.9 1115.8 L959.6 1115.5 L960.4 1115.9 L961.1 1116.0 L961.9 1116.8 L962.6 1115.3 L963.4 1116.0 L964.2 1117.2 L965.0 1116.8 L965.7 1116.0 L966.5 1116.9 L967.2 1117.5 L968.0 1116.4 L968.7 1117.4 L969.5 1116.0 L970.2 1117.9 L971.0 1116.9 L971.7 1116.5 L972.5 1117.8 L973.2 1117.5 L974.0 1118.1 L974.7 1118.0 L975.5 1118.0 L976.2 1117.5 L977.0 1118.6 L977.7 1116.7 L978.5 1118.5 L979.2 1118.2 L980.0 1117.3 L980.7 1118.5 L981.5 1117.8 L982.2 1118.1 L983.0 1118.8 L983.7 1117.5 L984.5 1117.7 L985.2 1118.5 L986.0 1117.4 L986.7 1118.5 L987.5 1119.0 L988.2 1118.4 L989.0 1117.9 L989.7 1119.2 L990.5 1119.4 L991.2 1119.3 L992.0 1118.8 L992.7 1119.7 L993.5 1119.5 L994.2 1118.0 L995.0 1118.6 L995.7 1118.0 L996.4 1117.9 L997.2 1118.6 L997.9 1119.9 L998.6 1119.8 L999.4 1118.2 L1000.1 1118.4 L1000.9 1118.9 L1001.6 1120.0 L1002.4 1119.5 L1003.2 1120.2 L1004.0 1118.3 L1004.7 1120.5 L1005.4 1118.7 L1006.1 1119.7 L1006.8 1120.3 L1007.5 1120.0 L1008.2 1118.8 L1008.9 1119.9 L1009.6 1119.4 L1010.3 1118.4 L1011.1 1119.2 L1011.8 1119.2 L1012.6 1119.9 L1013.3 1119.1 L1014.1 1119.9 L1014.9 1120.1 L1015.7 1118.9 L1016.5 1118.8 L1017.3 1120.2 L1018.2 1119.7 L1019.1 1118.9 L1020.0 1118.9 L1020.6 1120.9 L1021.2 1120.1 L1021.9 1119.5 L1022.5 1119.1 L1023.2 1121.1 L1023.8 1120.3 L1024.5 1120.4 L1025.2 1119.5 L1025.9 1119.4 L1026.6 1119.7 L1027.4 1119.1 L1028.1 1120.2 L1028.8 1119.7 L1029.6 1120.7 L1030.4 1119.7 L1031.1 1119.9 L1031.9 1120.0 L1032.7 1121.1 L1033.5 1119.6 L1034.3 1120.5 L1035.1 1119.4 L1035.9 1120.2 L1036.7 1119.5 L1037.6 1121.0 L1038.4 1119.5 L1039.2 1120.9 L1040.1 1120.5 L1040.9 1120.0 L1041.7 1121.1 L1042.6 1119.8 L1043.4 1120.7 L1044.3 1120.3 L1045.1 1120.0 L1046.0 1119.0 L1046.8 1119.9 L1047.7 1119.6 L1048.5 1120.0 L1049.3 1121.3 L1050.2 1119.6 L1051.0 1120.6 L1051.9 1120.6 L1052.7 1119.5 L1053.5 1119.9 L1054.4 1119.3 L1055.2 1121.2 L1056.0 1119.6 L1056.8 1120.0 L1057.6 1119.8 L1058.4 1121.0 L1059.2 1121.1 L1060.0 1120.4 L1060.8 1120.3 L1061.6 1119.2 L1062.4 1121.2 L1063.1 1119.2 L1063.9 1119.9 L1064.7 1119.9 L1065.5 1120.8 L1066.3 1120.6 L1067.1 1119.8 L1067.8 1121.2 L1068.6 1121.4 L1069.4 1119.1 L1070.2 1120.6 L1071.0 1120.2 L1071.8 1119.9 L1072.5 1120.2 L1073.3 1119.8 L1074.1 1120.7 L1074.9 1120.5 L1075.7 1121.4 L1076.5 1121.4 L1077.3 1121.5 L1078.0 1120.0 L1078.8 1121.1 L1079.6 1120.6 L1080.4 1120.8 L1081.2 1121.5 L1082.0 1119.2 L1082.7 1120.2 L1083.5 1120.0 L1084.3 1120.7 L1085.1 1119.6 L1085.9 1121.5 L1086.7 1119.6 L1087.5 1120.0 L1088.2 1119.4 L1089.0 1120.0 L1089.8 1120.9 L1090.6 1119.3 L1091.4 1119.5 L1092.2 1120.7 L1092.9 1120.6 L1093.7 1120.9 L1094.5 1119.7 L1095.3 1121.1 L1096.1 1120.9 L1096.9 1121.0 L1097.6 1119.3 L1098.4 1120.2 L1099.2 1119.1 L1100.0 1121.2 L1100.8 1121.4 L1101.6 1121.3 L1102.5 1119.1 L1103.3 1119.9 L1104.2 1120.4 L1105.1 1120.4 L1106.0 1119.3 L1106.9 1121.0 L1107.8 1119.8 L1108.7 1120.3 L1109.7 1119.4 L1110.6 1120.5 L1111.6 1119.4 L1112.5 1119.3 L1113.5 1120.3 L1114.4 1119.8 L1115.4 1121.0 L1116.3 1119.7 L1117.3 1120.1 L1118.2 1119.2 L1119.2 1119.6 L1120.1 1120.2 L1121.0 1120.4 L1122.0 1120.2 L1122.9 1121.2 L1123.8 1119.3 L1124.7 1121.2 L1125.6 1119.4 L1126.5 1121.5 L1127.3 1120.4 L1128.2 1120.1 L1129.0 1120.6 L1129.8 1121.2 L1130.6 1121.5 L1131.4 1120.1 L1132.2 1119.1 L1132.9 1119.4 L1133.6 1121.1 L1134.3 1120.9 L1135.0 1120.8 L1135.6 1119.4 L1136.2 1120.4 L1136.8 1119.1 L1137.4 1119.3 L1137.9 1119.8 L1138.4 1121.5 L1138.8 1120.7 L1139.3 1121.2 L1139.6 1119.2 L1140.0 1120.1 L1140.9 1119.3 L1141.7 1119.7 L1142.4 1119.4 L1143.1 1120.9 L1143.6 1120.1 L1144.2 1120.0 L1144.7 1119.5 L1145.1 1118.9 L1145.4 1118.2 L1145.9 1114.9 L1146.4 1111.6 L1146.7 1111.0 L1147.1 1110.5 L1147.7 1110.1 L1148.2 1110.2 L1148.8 1109.4 L1149.4 1109.5 L1150.2 1109.6 L1150.9 1109.7 L1151.6 1109.5 L1152.3 1109.7 L1153.1 1109.7 L1153.9 1109.0 L1154.6 1110.5 L1155.2 1109.7 L1155.7 1110.3 L1156.2 1110.7 L1156.6 1111.2 L1156.9 1111.8 L1157.4 1115.1 L1157.9 1118.4 L1158.2 1119.0 L1158.7 1119.6 L1159.2 1120.0 L1159.8 1120.4 L1160.3 1120.2 L1160.9 1119.2 L1161.5 1120.1 L1162.3 1121.4 L1163.1 1119.1 L1164.0 1120.5 L1164.3 1121.4 L1164.7 1120.0 L1165.0 1120.5 L1165.4 1120.0 L1165.8 1119.8 L1166.3 1120.6 L1166.7 1120.5 L1167.2 1119.8 L1167.7 1120.3 L1168.2 1120.3 L1168.8 1120.9 L1169.3 1119.2 L1169.9 1119.3 L1170.5 1119.7 L1171.2 1119.7 L1171.8 1121.0 L1172.5 1120.1 L1173.1 1121.2 L1173.8 1120.0 L1174.5 1119.8 L1175.2 1120.7 L1176.0 1119.3 L1176.7 1121.5 L1177.5 1121.1 L1178.3 1119.9 L1179.1 1119.8 L1179.9 1121.1 L1180.7 1121.0 L1181.5 1120.6 L1182.3 1119.2 L1183.2 1120.9 L1184.0 1119.1 L1184.9 1120.6 L1185.8 1120.4 L1186.7 1121.3 L1187.6 1120.6 L1188.5 1119.1 L1189.4 1121.3 L1190.3 1120.9 L1191.2 1120.5 L1192.1 1119.0 L1193.1 1120.8 L1194.0 1120.0 L1194.9 1120.7 L1195.9 1121.5 L1196.8 1121.3 L1197.8 1119.2 L1198.7 1120.9 L1199.7 1120.1 L1200.6 1120.9 L1201.6 1119.9 L1202.5 1120.1 L1203.5 1120.1 L1204.4 1119.3 L1205.4 1119.8 L1206.3 1120.8 L1207.3 1119.2 L1208.2 1119.3 L1209.2 1121.1 L1210.1 1120.6 L1211.0 1120.3 L1212.0 1119.3 L1212.9 1119.3 L1213.8 1119.7 L1214.7 1121.3 L1215.6 1120.4 L1216.5 1121.3 L1217.4 1119.5 L1218.3 1120.0 L1219.1 1120.3 L1220.0 1121.0 L1220.7 1119.3 L1221.5 1121.1 L1222.2 1120.1 L1222.9 1119.0 L1223.7 1120.0 L1224.5 1119.9 L1225.2 1120.6 L1226.0 1121.3 L1226.8 1120.2 L1227.6 1120.7 L1228.4 1119.9 L1229.2 1120.9 L1230.0 1119.2 L1230.8 1120.8 L1231.6 1119.3 L1232.5 1120.4 L1233.3 1119.4 L1234.1 1119.8 L1235.0 1119.3 L1235.8 1119.8 L1236.7 1120.4 L1237.5 1120.2 L1238.4 1119.9 L1239.2 1120.4 L1240.1 1121.0 L1241.0 1119.8 L1241.8 1120.4 L1242.7 1120.1 L1243.6 1121.4 L1244.5 1119.7 L1245.3 1120.6 L1246.2 1119.5 L1247.1 1119.6 L1248.0 1120.7 L1248.9 1120.3 L1249.8 1119.5 L1250.7 1119.1 L1251.6 1121.0 L1252.4 1119.8 L1253.3 1120.7 L1254.2 1120.0 L1255.1 1120.4 L1256.0 1120.3 L1256.9 1121.3 L1257.8 1121.2 L1258.7 1120.0 L1259.6 1120.1 L1260.5 1119.5 L1261.3 1120.8 L1262.2 1119.1 L1263.1 1119.6 L1264.0 1121.0 L1264.9 1119.0 L1265.7 1120.6 L1266.6 1120.3 L1267.5 1120.2 L1268.3 1119.7 L1269.2 1119.2 L1270.0 1121.2 L1270.9 1120.8 L1271.8 1120.9 L1272.6 1119.1 L1273.4 1120.8 L1274.3 1119.4 L1275.1 1119.4 L1275.9 1120.2 L1276.8 1120.4 L1277.6 1119.1 L1278.4 1120.7 L1279.2 1120.3 L1280.0 1121.1 L1280.8 1121.1 L1281.6 1120.6 L1282.3 1119.7 L1283.1 1121.2 L1283.9 1120.6 L1284.6 1119.6 L1285.4 1121.0 L1286.1 1120.6 L1286.8 1119.5 L1287.6 1119.4 L1288.3 1118.9 L1289.0 1120.1 L1289.7 1119.4 L1290.4 1119.5 L1291.1 1119.4 L1291.7 1119.1 L1292.4 1120.0 L1293.0 1119.5 L1293.7 1119.5 L1294.3 1119.5 L1294.9 1120.1 L1295.5 1121.0 L1296.1 1119.2 L1296.7 1120.9 L1297.3 1120.9 L1297.9 1120.3 L1298.4 1120.1 L1299.0 1120.6 L1299.5 1120.1 L1300.0 1120.4 L1301.0 1121.0 L1301.9 1120.7 L1302.8 1119.4 L1303.7 1118.9 L1304.6 1121.0 L1305.4 1119.6 L1306.2 1120.6 L1307.0 1119.3 L1307.8 1119.8 L1308.5 1119.6 L1309.2 1120.4 L1310.0 1120.9 L1310.7 1119.8 L1311.4 1120.0 L1312.1 1119.4 L1312.8 1119.1 L1313.5 1120.8 L1314.2 1118.8 L1314.9 1120.7 L1315.6 1120.0 L1316.3 1118.6 L1317.0 1120.6 L1317.7 1118.7 L1318.5 1119.7 L1319.2 1118.6 L1320.0 1120.6 L1320.8 1119.0 L1321.6 1120.3 L1322.4 1118.4 L1323.2 1119.7 L1324.0 1118.3 L1324.8 1118.2 L1325.7 1119.4 L1326.5 1120.2 L1327.3 1119.5 L1328.2 1119.8 L1329.0 1119.6 L1329.9 1119.0 L1330.7 1117.9 L1331.5 1118.8 L1332.3 1118.0 L1333.1 1118.7 L1333.9 1118.2 L1334.7 1118.5 L1335.5 1117.8 L1336.2 1118.7 L1337.0 1118.0 L1337.7 1118.0 L1338.3 1117.2 L1339.0 1117.8 L1339.6 1117.8 L1340.2 1118.3 L1340.8 1117.6 L1341.6 1116.9 L1342.3 1116.9 L1343.1 1116.6 L1343.8 1116.3 L1344.4 1115.8 L1345.1 1115.4 L1345.7 1114.9 L1346.3 1114.3 L1346.9 1113.8 L1347.5 1113.3 L1348.1 1112.7 L1348.6 1112.2 L1349.2 1111.7 L1349.8 1111.2 L1350.3 1110.7 L1350.8 1110.2 L1351.3 1109.6 L1351.9 1109.1 L1352.4 1108.6 L1352.8 1108.0 L1353.3 1107.4 L1353.8 1106.8 L1354.2 1106.2 L1354.6 1105.6 L1355.0 1105.0 L1355.8 1103.5 L1356.6 1101.9 L1357.3 1100.2 L1358.0 1098.5 L1358.6 1096.7 L1359.2 1095.0 L1359.7 1093.4 L1360.1 1091.7 L1360.5 1090.1 L1360.9 1088.5 L1361.3 1086.8 L1361.7 1085.0 L1362.1 1083.2 L1362.4 1081.4 L1362.8 1079.5 L1363.2 1077.5 L1363.5 1075.6 L1363.9 1073.6 L1364.2 1071.7 L1364.5 1069.9 L1364.8 1068.1 L1365.1 1066.2 L1365.4 1064.3 L1365.7 1062.5 L1366.1 1060.7 L1366.4 1059.0 L1366.7 1057.5 L1367.2 1055.1 L1367.7 1052.7 L1368.2 1050.8 L1368.8 1049.6 L1369.3 1050.7 L1369.8 1052.6 L1370.3 1055.0 L1370.8 1057.5 L1371.6 1062.0 L1372.5 1067.3 L1373.3 1073.0 L1374.2 1078.3 L1374.5 1080.3 L1374.9 1082.2 L1375.2 1084.2 L1375.6 1086.1 L1375.9 1088.0 L1376.3 1089.9 L1376.7 1091.7 L1377.1 1093.4 L1377.5 1095.0 L1378.1 1096.9 L1378.7 1098.7 L1379.3 1100.4 L1380.1 1102.1 L1380.8 1103.6 L1381.7 1105.0 L1382.2 1105.7 L1382.7 1106.4 L1383.3 1107.1 L1383.9 1107.8 L1384.6 1108.5 L1385.3 1109.1 L1385.9 1109.6 L1386.6 1110.1 L1387.2 1110.3 L1387.8 1110.9 L1388.3 1111.3 L1388.9 1110.7 L1389.4 1110.4 L1390.0 1109.9 L1390.5 1109.2 L1391.0 1108.4 L1391.5 1107.6 L1391.9 1106.7 L1392.3 1105.9 L1392.5 1105.0 L1393.1 1101.2 L1393.5 1096.4 L1393.8 1091.3 L1394.2 1086.7 L1394.6 1082.3 L1395.0 1078.2 L1395.4 1074.2 L1396.2 1067.6 L1397.1 1063.4 L1397.8 1065.9 L1398.5 1070.9 L1399.3 1077.0 L1400.0 1082.5 L1400.8 1088.2 L1401.7 1093.8 L1402.5 1099.2 L1402.8 1101.1 L1403.1 1103.0 L1403.3 1105.0 L1403.6 1106.9 L1403.9 1108.7 L1404.2 1110.4 L1404.6 1112.0 L1405.0 1113.3 L1405.9 1115.4 L1407.0 1117.2 L1408.3 1118.3 L1408.9 1118.5 L1409.5 1118.8 L1410.1 1119.3 L1410.8 1119.1 L1411.6 1120.0 L1412.4 1118.4 L1413.2 1118.8 L1414.0 1118.5 L1414.7 1119.0 L1415.3 1120.1 L1416.0 1120.5 L1416.7 1119.5 L1417.4 1118.8 L1418.1 1119.2 L1418.8 1119.8 L1419.6 1119.1 L1420.4 1120.3 L1421.2 1120.8 L1422.1 1119.6 L1423.0 1119.9 L1424.0 1120.5 L1425.0 1119.6 L1425.5 1118.9 L1426.0 1120.8 L1426.5 1120.9 L1427.0 1118.5 L1427.6 1120.4 L1428.1 1119.5 L1428.7 1118.6 L1429.3 1118.9 L1429.9 1118.9 L1430.5 1120.3 L1431.1 1119.0 L1431.8 1118.6 L1432.4 1119.1 L1433.1 1120.5 L1433.8 1119.8 L1434.5 1120.2 L1435.2 1119.7 L1435.9 1119.0 L1436.6 1118.6 L1437.3 1119.3 L1438.1 1118.7 L1438.9 1119.2 L1439.6 1120.1 L1440.4 1119.5 L1441.2 1119.7 L1442.0 1120.1 L1442.8 1119.4 L1443.6 1119.5 L1444.4 1120.8 L1445.2 1120.0 L1446.1 1119.6 L1446.9 1119.9 L1447.8 1119.7 L1448.6 1119.4 L1449.5 1120.9 L1450.4 1119.2 L1451.2 1120.9 L1452.1 1120.7 L1453.0 1120.8 L1453.9 1119.0 L1454.8 1119.9 L1455.7 1121.1 L1456.6 1119.3 L1457.5 1119.0 L1458.4 1120.4 L1459.3 1119.2 L1460.2 1120.1 L1461.1 1119.0 L1462.0 1121.0 L1462.9 1119.3 L1463.8 1118.9 L1464.7 1120.4 L1465.6 1119.5 L1466.5 1120.0 L1467.5 1119.9 L1468.4 1120.9 L1469.3 1119.9 L1470.2 1119.6 L1471.1 1118.7 L1472.0 1119.9 L1472.9 1119.3 L1473.8 1120.1 L1474.7 1120.2 L1475.6 1119.8 L1476.5 1118.9 L1477.4 1119.9 L1478.3 1119.9 L1479.1 1120.3 L1480.0 1121.1 L1480.7 1119.4 L1481.4 1119.8 L1482.2 1118.9 L1482.9 1120.6 L1483.6 1119.2 L1484.4 1120.7 L1485.1 1120.6 L1485.8 1119.3 L1486.6 1120.9 L1487.3 1119.9 L1488.1 1119.7 L1488.9 1120.0 L1489.6 1121.0 L1490.4 1119.9 L1491.1 1119.9 L1491.9 1119.4 L1492.7 1120.7 L1493.4 1119.9 L1494.2 1119.5 L1495.0 1119.1 L1495.8 1119.2 L1496.6 1120.7 L1497.4 1120.7 L1498.1 1121.1 L1498.9 1120.9 L1499.7 1120.4 L1500.5 1120.6 L1501.3 1120.4 L1502.1 1120.7 L1502.9 1120.6 L1503.7 1119.1 L1504.5 1120.7 L1505.3 1119.4 L1506.1 1119.2 L1506.9 1120.9 L1507.7 1118.7 L1508.6 1119.9 L1509.4 1119.5 L1510.2 1120.6 L1511.0 1120.2 L1511.8 1120.9 L1512.6 1121.0 L1513.4 1120.2 L1514.3 1118.8 L1515.1 1120.3 L1515.9 1118.9 L1516.7 1121.1 L1517.5 1120.8 L1518.4 1119.4 L1519.2 1119.1 L1520.0 1120.4 L1520.8 1120.5 L1521.6 1121.1 L1522.5 1120.2 L1523.3 1118.9 L1524.1 1120.4 L1524.9 1118.8 L1525.8 1120.8 L1526.6 1120.5 L1527.4 1120.6 L1528.2 1120.8 L1529.0 1120.0 L1529.9 1121.0 L1530.7 1120.2 L1531.5 1119.8 L1532.3 1119.6 L1533.1 1119.5 L1534.0 1118.7 L1534.8 1119.0 L1535.6 1120.6 L1536.4 1119.2 L1537.2 1120.2 L1538.0 1120.5 L1538.8 1120.3 L1539.7 1119.9 L1540.5 1119.4 L1541.3 1119.3 L1542.1 1119.1 L1542.9 1120.2 L1543.7 1120.3 L1544.5 1120.9 L1545.3 1119.4 L1546.1 1120.9 L1546.9 1120.8 L1547.7 1119.3 L1548.4 1120.9 L1549.2 1120.1 L1550.0 1121.0 L1550.8 1120.5 L1551.6 1119.4 L1552.4 1119.3 L1553.1 1119.9 L1553.9 1119.8 L1554.7 1118.7 L1555.5 1120.7 L1556.2 1119.9 L1557.0 1119.7 L1557.7 1120.4 L1558.5 1119.2 L1559.2 1119.1 L1560.0 1120.0 L1560.8 1119.2 L1561.7 1119.4 L1562.5 1118.7 L1563.3 1118.7 L1564.2 1119.4 L1565.0 1119.9 L1565.8 1120.9 L1566.6 1120.1 L1567.5 1119.6 L1568.3 1119.6 L1569.1 1119.1 L1569.9 1119.7 L1570.7 1120.9 L1571.5 1118.8 L1572.3 1119.6 L1573.2 1120.2 L1574.0 1120.4 L1574.8 1119.9 L1575.6 1120.1 L1576.4 1120.9 L1577.2 1120.8 L1578.0 1119.1 L1578.8 1119.9 L1579.6 1121.0 L1580.4 1119.8 L1581.2 1119.0 L1582.0 1120.4 L1582.8 1118.6 L1583.6 1118.9 L1584.4 1119.9 L1585.1 1119.2 L1585.9 1120.3 L1586.7 1120.3 L1587.5 1119.3 L1588.3 1120.4 L1589.1 1120.1 L1589.9 1120.2 L1590.7 1119.6 L1591.5 1119.5 L1592.2 1118.7 L1593.0 1119.6 L1593.8 1120.8 L1594.6 1120.7 L1595.4 1118.6 L1596.2 1118.6 L1596.9 1119.1 L1597.7 1120.2 L1598.5 1119.5 L1599.3 1118.8 L1600.1 1119.5 L1600.8 1119.9 L1601.6 1120.3 L1602.4 1119.4 L1603.2 1120.0 L1604.0 1120.1 L1604.7 1120.0 L1605.5 1118.5 L1606.3 1120.2 L1607.1 1118.7 L1607.9 1118.5 L1608.7 1119.6 L1609.4 1118.4 L1610.2 1118.6 L1611.0 1119.4 L1611.8 1119.6 L1612.6 1118.7 L1613.4 1120.8 L1614.1 1120.5 L1614.9 1119.6 L1615.7 1119.8 L1616.5 1119.2 L1617.3 1120.8 L1618.1 1118.7 L1618.9 1119.1 L1619.6 1118.9 L1620.4 1120.5 L1621.2 1119.6 L1622.0 1119.4 L1622.8 1119.4 L1623.6 1120.6 L1624.4 1119.0" fill="none" stroke="#ff22ff" stroke-width="4.1" stroke-linejoin="round" stroke-linecap="butt"/>
<path id="xrd-flat" d="M115.6 1102.9 L116.4 1103.3 L117.2 1104.3 L117.9 1103.3 L118.7 1103.5 L119.5 1103.8 L120.3 1102.9 L121.1 1103.9 L121.8 1104.3 L122.6 1104.8 L123.4 1103.1 L124.2 1103.8 L125.0 1103.3 L125.8 1105.3 L126.5 1105.1 L127.3 1103.6 L128.0 1106.1 L128.8 1106.2 L129.6 1105.5 L130.3 1105.5 L131.1 1104.4 L131.9 1104.1 L132.7 1105.6 L133.4 1104.4 L134.2 1104.9 L135.0 1105.1 L135.8 1104.6 L136.5 1105.9 L137.3 1105.9 L138.1 1107.1 L138.9 1106.3 L139.7 1106.7 L140.4 1106.4 L141.2 1106.9 L142.0 1106.4 L142.8 1106.0 L143.6 1108.1 L144.4 1108.2 L145.2 1107.8 L146.0 1107.6 L146.7 1106.6 L147.5 1106.5 L148.2 1106.7 L149.0 1106.2 L149.7 1108.2 L150.5 1107.3 L151.2 1108.6 L152.0 1107.5 L152.7 1109.1 L153.5 1108.9 L154.2 1106.8 L155.0 1107.4 L155.7 1109.4 L156.5 1108.3 L157.2 1109.8 L158.0 1108.3 L158.7 1107.5 L159.5 1109.1 L160.2 1109.6 L160.9 1108.3 L161.7 1107.9 L162.4 1108.7 L163.1 1110.5 L163.9 1110.0 L164.6 1108.4 L165.3 1108.8 L166.1 1108.5 L166.8 1108.5 L167.6 1110.6 L168.4 1108.9 L169.2 1110.1 L170.0 1109.9 L170.7 1109.2 L171.4 1110.8 L172.2 1109.1 L172.9 1110.7 L173.7 1109.2 L174.4 1110.2 L175.2 1109.6 L176.0 1109.9 L176.8 1112.0 L177.6 1111.5 L178.4 1110.1 L179.2 1111.9 L180.0 1110.0 L180.8 1110.6 L181.6 1112.0 L182.4 1111.4 L183.2 1109.9 L184.0 1112.6 L184.8 1110.3 L185.6 1110.5 L186.4 1112.1 L187.2 1110.8 L188.0 1110.8 L188.8 1110.2 L189.6 1110.3 L190.3 1111.8 L191.1 1110.8 L191.9 1112.0 L192.6 1111.3 L193.4 1111.6 L194.2 1113.2 L194.9 1111.8 L195.7 1112.1 L196.5 1113.0 L197.2 1111.0 L198.0 1110.9 L198.8 1113.3 L199.6 1113.1 L200.3 1111.3 L201.1 1111.2 L201.9 1113.0 L202.7 1113.6 L203.5 1111.3 L204.3 1113.7 L205.2 1113.6 L206.0 1112.7 L206.7 1112.2 L207.4 1111.2 L208.2 1111.0 L208.9 1114.0 L209.7 1111.7 L210.4 1113.2 L211.2 1111.9 L211.9 1113.7 L212.7 1113.0 L213.5 1112.1 L214.2 1111.7 L215.0 1113.5 L215.8 1111.4 L216.6 1112.0 L217.4 1113.1 L218.1 1114.0 L218.9 1113.3 L219.7 1112.3 L220.5 1114.3 L221.3 1112.1 L222.1 1111.5 L222.9 1112.3 L223.7 1112.9 L224.5 1111.7 L225.3 1112.1 L226.1 1112.8 L226.9 1113.4 L227.6 1112.0 L228.4 1112.8 L229.2 1114.5 L230.0 1114.9 L230.8 1113.8 L231.6 1114.0 L232.4 1113.6 L233.2 1112.2 L234.1 1111.9 L235.0 1111.9 L235.8 1114.8 L236.7 1114.1 L237.6 1115.0 L238.5 1112.0 L239.4 1114.0 L240.3 1113.5 L241.2 1114.4 L242.1 1113.1 L243.0 1115.3 L243.8 1112.3 L244.7 1113.9 L245.5 1114.5 L246.4 1115.1 L247.2 1114.5 L248.0 1114.5 L248.8 1114.8 L249.5 1115.2 L250.3 1113.4 L251.0 1114.5 L251.7 1115.2 L252.3 1115.1 L252.9 1113.6 L253.5 1114.9 L254.0 1115.1 L254.5 1114.1 L255.0 1114.3 L255.9 1113.5 L256.8 1114.1 L257.5 1114.2 L258.2 1112.6 L258.9 1114.1 L259.5 1114.3 L260.1 1113.6 L260.7 1113.0 L261.2 1112.5 L261.7 1111.9 L262.3 1111.6 L262.9 1111.3 L263.5 1111.8 L264.2 1110.0 L264.9 1111.7 L265.5 1109.3 L266.2 1111.2 L266.8 1111.0 L267.5 1110.7 L268.1 1111.6 L268.7 1111.6 L269.2 1111.9 L269.7 1112.5 L270.1 1113.1 L270.5 1113.7 L271.0 1114.3 L271.5 1114.6 L272.1 1114.5 L272.7 1114.3 L273.4 1116.0 L274.1 1115.6 L275.0 1115.1 L275.4 1116.4 L275.9 1114.9 L276.4 1115.9 L276.9 1114.6 L277.5 1115.3 L278.1 1116.5 L278.8 1116.9 L279.5 1116.8 L280.2 1115.3 L280.9 1116.0 L281.7 1115.2 L282.5 1114.7 L283.3 1115.8 L284.1 1116.9 L285.0 1117.0 L285.8 1116.6 L286.7 1117.4 L287.6 1115.3 L288.5 1115.0 L289.4 1115.9 L290.3 1115.4 L291.2 1115.3 L292.1 1115.9 L293.0 1116.6 L293.9 1116.3 L294.8 1115.7 L295.7 1117.4 L296.6 1117.9 L297.5 1116.3 L298.3 1115.1 L299.2 1115.0 L300.0 1117.7 L300.8 1115.1 L301.5 1117.2 L302.3 1116.8 L303.0 1116.0 L303.8 1117.6 L304.5 1115.2 L305.3 1115.6 L306.0 1116.6 L306.8 1115.3 L307.5 1117.8 L308.3 1116.0 L309.0 1115.7 L309.8 1115.4 L310.5 1117.3 L311.3 1116.8 L312.1 1117.4 L312.8 1117.5 L313.6 1118.0 L314.4 1118.5 L315.1 1117.7 L315.9 1116.2 L316.7 1117.1 L317.5 1116.1 L318.3 1115.6 L319.1 1117.1 L319.9 1117.9 L320.7 1116.2 L321.5 1116.6 L322.3 1116.8 L323.2 1118.0 L324.0 1117.4 L324.8 1117.8 L325.7 1118.2 L326.5 1117.1 L327.4 1118.4 L328.2 1118.8 L329.1 1116.1 L330.0 1118.5 L330.7 1118.1 L331.4 1116.6 L332.1 1117.4 L332.8 1117.9 L333.5 1118.6 L334.3 1117.3 L335.0 1117.8 L335.8 1118.5 L336.5 1118.3 L337.3 1118.7 L338.0 1117.6 L338.8 1118.0 L339.6 1116.9 L340.4 1118.2 L341.1 1118.5 L341.9 1118.0 L342.7 1118.2 L343.5 1117.0 L344.3 1118.7 L345.1 1118.9 L345.9 1118.9 L346.8 1117.9 L347.6 1118.5 L348.4 1117.4 L349.2 1118.8 L350.0 1118.7 L350.9 1117.5 L351.7 1116.8 L352.5 1117.7 L353.4 1118.0 L354.2 1118.5 L355.0 1117.9 L355.9 1116.7 L356.7 1118.7 L357.5 1116.8 L358.4 1118.7 L359.2 1117.1 L360.0 1117.5 L360.9 1118.7 L361.7 1117.1 L362.5 1117.1 L363.4 1118.0 L364.2 1118.5 L365.0 1118.8 L365.8 1118.5 L366.7 1119.1 L367.5 1118.0 L368.3 1119.1 L369.1 1117.0 L369.9 1117.4 L370.7 1118.1 L371.5 1117.5 L372.3 1118.6 L373.1 1118.4 L373.9 1118.1 L374.7 1118.9 L375.5 1118.2 L376.2 1117.6 L377.0 1117.8 L377.8 1118.9 L378.5 1119.1 L379.3 1117.4 L380.0 1119.0 L380.9 1119.3 L381.7 1118.2 L382.6 1118.3 L383.5 1117.4 L384.4 1118.2 L385.3 1118.1 L386.2 1118.4 L387.1 1117.0 L388.1 1119.3 L389.0 1118.2 L389.9 1117.9 L390.9 1118.9 L391.8 1118.3 L392.8 1118.1 L393.7 1118.6 L394.7 1117.1 L395.6 1118.2 L396.5 1117.9 L397.5 1119.3 L398.4 1119.2 L399.3 1117.6 L400.2 1118.1 L401.2 1117.2 L402.0 1118.0 L402.9 1119.0 L403.8 1119.2 L404.7 1118.1 L405.5 1117.7 L406.4 1117.4 L407.2 1118.5 L408.0 1119.2 L408.8 1117.3 L409.5 1118.9 L410.3 1117.0 L411.0 1117.4 L411.7 1117.5 L412.4 1118.7 L413.0 1117.8 L413.7 1117.8 L414.3 1118.5 L414.8 1117.2 L415.4 1118.8 L415.9 1117.3 L416.4 1118.2 L416.8 1117.6 L417.3 1117.4 L417.6 1118.3 L418.0 1118.0 L418.9 1117.9 L419.6 1118.0 L420.3 1118.2 L420.9 1117.4 L421.5 1117.5 L422.1 1118.0 L422.8 1117.7 L423.4 1117.3 L424.0 1116.9 M428.4 1109.5 L428.9 1109.0 L429.4 1109.2 L430.1 1108.2 L430.9 1109.8 L431.6 1109.2 L432.1 1109.0 L432.6 1109.5 L433.1 1110.1 M437.6 1118.0 L438.2 1118.4 L438.9 1118.2 L439.5 1118.4 L440.1 1119.2 L440.7 1119.8 L441.4 1120.0 L442.1 1118.0 L443.0 1118.9 L443.4 1119.5 L443.7 1118.9 L444.2 1119.4 L444.6 1118.1 L445.1 1117.8 L445.6 1117.9 L446.2 1117.7 L446.7 1119.0 L447.3 1118.9 L447.9 1119.1 L448.6 1118.0 L449.3 1118.1 L449.9 1118.2 L450.7 1119.8 L451.4 1120.1 L452.1 1120.0 L452.9 1117.9 L453.7 1117.8 L454.5 1120.0 L455.3 1118.8 L456.2 1119.6 L457.0 1118.5 L457.9 1118.8 L458.8 1118.9 L459.7 1118.7 L460.6 1119.2 L461.5 1117.7 L462.4 1119.4 L463.3 1119.8 L464.2 1118.1 L465.2 1118.8 L466.1 1119.5 L467.0 1118.7 L468.0 1118.1 L468.9 1118.1 L469.9 1118.9 L470.8 1117.7 L471.8 1119.9 L472.7 1119.7 L473.6 1119.4 L474.6 1119.8 L475.5 1119.2 L476.4 1118.7 L477.3 1119.1 L478.2 1118.9 L479.1 1120.1 L480.0 1119.7 L480.7 1118.3 L481.4 1119.9 L482.1 1119.5 L482.8 1119.6 L483.6 1119.7 L484.3 1118.7 L485.0 1119.9 L485.8 1119.8 L486.5 1119.4 L487.3 1119.6 L488.0 1119.6 L488.8 1118.7 L489.5 1119.5 L490.3 1117.8 L491.0 1118.5 L491.8 1118.8 L492.6 1117.7 L493.4 1118.5 L494.1 1119.2 L494.9 1119.2 L495.7 1118.2 L496.5 1120.0 L497.3 1119.3 L498.1 1118.5 L498.9 1119.3 L499.7 1119.1 L500.5 1119.0 L501.3 1118.6 L502.1 1120.1 L502.9 1119.3 L503.7 1119.4 L504.6 1119.6 L505.4 1120.1 L506.2 1117.7 L507.0 1119.2 L507.8 1119.5 L508.7 1118.3 L509.5 1118.7 L510.3 1117.8 L511.1 1118.1 L512.0 1118.6 L512.8 1117.9 L513.6 1118.3 L514.5 1119.9 L515.3 1119.0 L516.1 1118.9 L516.9 1120.1 L517.8 1119.1 L518.6 1120.1 L519.4 1119.2 L520.3 1119.7 L521.1 1117.8 L521.9 1119.1 L522.8 1119.5 L523.6 1117.8 L524.4 1120.0 L525.3 1118.0 L526.1 1118.8 L526.9 1118.1 L527.8 1118.9 L528.6 1119.2 L529.4 1117.8 L530.2 1120.0 L531.1 1118.7 L531.9 1119.0 L532.7 1119.1 L533.5 1118.6 L534.3 1118.4 L535.2 1119.3 L536.0 1119.1 L536.8 1118.4 L537.6 1119.4 L538.4 1118.4 L539.2 1117.7 L540.0 1118.3 L540.8 1117.8 L541.6 1118.0 L542.4 1119.5 L543.2 1118.6 L544.0 1119.9 L544.8 1119.5 L545.6 1117.8 L546.4 1120.1 L547.2 1120.0 L548.0 1117.8 L548.8 1119.9 L549.6 1118.7 L550.4 1118.8 L551.2 1120.1 L552.0 1118.2 L552.9 1118.9 L553.7 1120.0 L554.5 1119.4 L555.3 1118.8 L556.1 1120.1 L556.9 1119.7 L557.7 1119.1 L558.6 1117.9 L559.4 1119.2 L560.2 1118.8 L561.0 1118.1 L561.8 1117.7 L562.6 1118.9 L563.5 1117.9 L564.3 1118.7 L565.1 1119.3 L565.9 1118.7 L566.7 1118.3 L567.5 1119.0 L568.3 1118.6 L569.2 1119.5 L570.0 1118.9 L570.8 1120.1 L571.6 1119.9 L572.4 1119.4 L573.2 1118.2 L574.0 1117.9 L574.8 1119.8 L575.6 1119.5 L576.4 1119.1 L577.2 1118.5 L578.0 1118.2 L578.8 1119.3 L579.6 1119.0 L580.4 1119.0 L581.2 1119.1 L582.0 1119.4 L582.8 1118.0 L583.5 1118.1 L584.3 1120.0 L585.1 1119.8 L585.9 1119.7 L586.7 1117.6 L587.4 1117.7 L588.2 1118.2 L589.0 1118.6 L589.7 1119.1 L590.5 1117.8 L591.2 1118.8 L592.0 1117.7 L592.7 1117.7 L593.5 1119.2 L594.2 1118.9 L594.9 1119.0 L595.7 1118.4 L596.4 1118.7 L597.1 1118.0 L597.9 1118.3 L598.6 1119.3 L599.3 1119.5 L600.0 1117.6 L600.9 1117.8 L601.7 1119.5 L602.6 1119.0 L603.5 1119.4 L604.4 1118.0 L605.3 1118.5 L606.2 1118.1 L607.2 1119.4 L608.1 1118.3 L609.0 1119.1 L609.9 1119.9 L610.9 1118.2 L611.8 1118.8 L612.7 1119.3 L613.6 1119.7 L614.6 1118.5 L615.5 1118.3 L616.4 1117.6 L617.3 1119.6 L618.3 1117.6 L619.2 1117.6 L620.1 1118.8 L621.0 1118.6 L621.9 1119.1 L622.7 1118.1 L623.6 1119.3 L624.5 1117.6 L625.3 1117.9 L626.1 1119.0 L627.0 1117.6 L627.8 1118.1 L628.6 1119.2 L629.4 1119.1 L630.1 1118.1 L630.9 1117.7 L631.6 1118.2 L632.3 1119.1 L633.0 1118.2 L633.7 1117.6 L634.4 1119.1 L635.0 1118.7 L635.6 1119.6 L636.2 1119.6 L636.8 1119.6 L637.3 1118.4 L637.8 1119.3 L638.3 1118.0 L638.8 1118.1 L639.2 1118.3 L639.6 1119.6 L640.0 1119.4 L641.0 1117.9 L641.8 1118.1 L642.6 1118.1 L643.3 1118.1 L643.9 1118.1 L644.5 1118.1 L645.1 1117.9 L645.6 1117.4 M649.1 1111.5 L649.5 1111.2 L650.0 1110.4 L650.5 1111.0 L650.9 1111.5 M654.3 1117.2 L654.8 1117.7 L655.4 1118.2 L656.0 1117.8 L656.6 1117.6 L657.2 1118.9 L657.9 1119.3 L658.6 1117.4 L659.4 1118.7 L660.3 1117.5 L661.1 1119.0 L662.0 1118.8 L662.6 1117.8 L663.3 1117.7 L664.0 1119.0 L664.7 1118.4 L665.4 1119.0 L666.2 1118.1 L667.0 1117.9 L667.7 1119.4 L668.6 1118.6 L669.4 1118.2 L670.2 1118.2 L671.0 1118.6 L671.9 1118.6 L672.7 1119.0 L673.5 1117.8 L674.4 1118.7 L675.2 1118.3 L676.0 1118.7 L676.7 1118.6 L677.5 1118.6 L678.3 1118.7 L679.0 1118.8 L679.8 1118.1 L680.6 1117.8 L681.3 1118.2 L682.1 1118.3 L682.9 1117.4 L683.7 1117.4 L684.5 1116.7 L685.3 1118.0 L686.0 1118.6 L686.8 1117.1 L687.6 1116.6 L688.3 1116.7 L689.1 1117.1 L689.8 1116.8 L690.6 1118.2 L691.3 1116.2 L692.0 1116.7 L692.8 1116.2 L693.6 1117.3 L694.4 1117.5 L695.1 1116.2 L695.9 1115.9 L696.6 1116.6 L697.4 1116.8 L698.1 1117.4 L698.8 1115.5 L699.6 1115.6 L700.3 1115.7 L701.0 1115.7 L701.8 1115.6 L702.5 1116.5 L703.3 1116.2 L704.0 1115.4 L704.8 1115.2 L705.5 1115.3 L706.3 1115.0 L707.0 1115.9 L707.8 1115.0 L708.5 1115.3 L709.3 1115.7 L710.0 1114.9 L710.8 1114.4 L711.5 1115.4 L712.3 1115.3 L713.0 1114.1 L713.8 1114.4 L714.5 1115.0 L715.2 1114.0 L716.0 1113.4 L716.8 1112.9 L717.5 1114.5 L718.3 1114.1 L719.1 1113.2 L719.9 1113.4 L720.7 1113.3 L721.5 1112.7 L722.2 1113.9 L723.0 1113.2 L723.8 1112.3 L724.5 1111.8 L725.3 1112.5 L726.0 1112.2 L726.7 1112.8 L727.4 1112.5 L728.0 1112.2 L728.9 1111.3 L729.7 1111.1 L730.5 1111.1 L731.3 1110.8 L732.1 1111.2 L732.8 1110.6 L733.5 1110.4 L734.2 1110.3 L734.8 1109.6 L735.5 1109.3 L736.2 1108.9 L736.8 1108.5 L737.4 1108.0 L738.0 1107.5 L738.5 1107.0 L739.1 1106.5 L739.6 1106.0 M793.2 1100.1 L793.7 1100.7 L794.3 1101.3 L794.8 1101.9 L795.4 1102.5 L796.0 1103.0 L796.5 1103.5 L797.1 1103.9 L797.7 1104.4 L798.3 1104.8 L799.0 1105.2 L799.6 1105.6 L800.3 1106.1 L800.9 1106.4 L801.6 1106.9 L802.3 1107.1 L803.0 1107.5 L803.7 1107.7 L804.3 1108.3 L805.0 1108.7 L805.7 1109.0 L806.5 1108.7 L807.2 1109.3 L807.9 1109.6 L808.6 1109.7 L809.4 1110.7 L810.1 1109.9 L810.9 1110.7 L811.6 1111.3 L812.4 1111.8 L813.2 1110.7 L814.0 1111.3 L814.7 1112.0 L815.4 1110.8 L816.1 1111.3 L816.9 1112.6 L817.7 1111.3 L818.4 1111.9 L819.2 1111.8 L820.0 1112.1 L820.8 1111.5 L821.5 1111.4 L822.3 1113.6 L823.1 1113.1 L823.8 1113.1 L824.6 1112.0 L825.3 1112.1 L826.0 1112.8 L826.8 1112.1 L827.6 1112.6 L828.3 1113.8 L829.1 1112.4 L829.8 1112.4 L830.6 1114.0 L831.3 1113.1 L832.0 1111.7 L832.8 1112.6 L833.5 1113.2 L834.3 1111.7 L835.0 1112.4 L835.8 1113.3 L836.5 1113.6 L837.3 1112.9 L838.0 1113.5 L838.8 1112.5 L839.5 1112.3 L840.3 1113.2 L841.0 1112.2 L841.8 1112.9 L842.5 1111.7 L843.3 1111.9 L844.0 1111.4 L844.8 1112.1 L845.5 1111.3 L846.3 1111.3 L847.0 1111.2 L847.8 1111.6 L848.5 1111.2 L849.3 1111.4 L850.0 1112.3 L850.8 1111.6 L851.5 1111.8 L852.3 1110.5 L853.0 1110.7 L853.8 1110.0 L854.5 1110.9 L855.3 1110.2 L856.1 1109.9 L856.9 1109.4 L857.6 1109.4 L858.4 1109.4 L859.1 1109.4 L859.9 1110.0 L860.6 1109.5 L861.3 1108.7 L862.0 1108.6 L862.8 1108.1 L863.6 1109.0 L864.4 1108.0 L865.1 1108.3 L865.8 1108.0 L866.5 1108.0 L867.3 1106.8 L868.0 1106.9 L868.6 1106.7 L869.3 1106.2 L870.0 1106.1 L870.6 1105.7 L871.3 1105.3 L871.9 1104.8 L872.5 1104.4 L873.1 1103.9 L873.7 1103.5 L874.2 1103.0 L874.7 1102.5 L875.2 1102.0 M935.3 1104.8 L935.8 1105.4 L936.3 1106.0 L936.9 1106.6 L937.4 1107.1 L938.0 1107.6 L938.6 1108.1 L939.2 1108.6 L939.8 1109.0 L940.4 1109.4 L941.0 1109.8 L941.6 1110.2 L942.3 1110.5 L942.9 1110.9 L943.6 1111.2 L944.2 1111.6 L944.9 1111.7 L945.6 1112.2 L946.3 1112.8 L947.0 1113.0 L947.7 1113.1 L948.4 1113.2 L949.1 1113.5 L949.8 1113.2 L950.6 1114.3 L951.3 1114.3 L952.1 1114.2 L952.8 1114.7 L953.6 1114.5 L954.4 1114.6 L955.2 1114.5 L956.0 1115.3 L956.7 1115.3 L957.4 1115.4 L958.1 1114.6 L958.9 1115.8 L959.6 1115.5 L960.4 1115.9 L961.1 1116.0 L961.9 1116.8 L962.6 1115.3 L963.4 1116.0 L964.2 1117.2 L965.0 1116.8 L965.7 1116.0 L966.5 1116.9 L967.2 1117.5 L968.0 1116.4 L968.7 1117.4 L969.5 1116.0 L970.2 1117.9 L971.0 1116.9 L971.7 1116.5 L972.5 1117.8 L973.2 1117.5 L974.0 1118.1 L974.7 1118.0 L975.5 1118.0 L976.2 1117.5 L977.0 1118.6 L977.7 1116.7 L978.5 1118.5 L979.2 1118.2 L980.0 1117.3 L980.7 1118.5 L981.5 1117.8 L982.2 1118.1 L983.0 1118.8 L983.7 1117.5 L984.5 1117.7 L985.2 1118.5 L986.0 1117.4 L986.7 1118.5 L987.5 1119.0 L988.2 1118.4 L989.0 1117.9 L989.7 1119.2 L990.5 1119.4 L991.2 1119.3 L992.0 1118.8 L992.7 1119.7 L993.5 1119.5 L994.2 1118.0 L995.0 1118.6 L995.7 1118.0 L996.4 1117.9 L997.2 1118.6 L997.9 1119.9 L998.6 1119.8 L999.4 1118.2 L1000.1 1118.4 L1000.9 1118.9 L1001.6 1120.0 L1002.4 1119.5 L1003.2 1120.2 L1004.0 1118.3 L1004.7 1120.5 L1005.4 1118.7 L1006.1 1119.7 L1006.8 1120.3 L1007.5 1120.0 L1008.2 1118.8 L1008.9 1119.9 L1009.6 1119.4 L1010.3 1118.4 L1011.1 1119.2 L1011.8 1119.2 L1012.6 1119.9 L1013.3 1119.1 L1014.1 1119.9 L1014.9 1120.1 L1015.7 1118.9 L1016.5 1118.8 L1017.3 1120.2 L1018.2 1119.7 L1019.1 1118.9 L1020.0 1118.9 L1020.6 1120.9 L1021.2 1120.1 L1021.9 1119.5 L1022.5 1119.1 L1023.2 1121.1 L1023.8 1120.3 L1024.5 1120.4 L1025.2 1119.5 L1025.9 1119.4 L1026.6 1119.7 L1027.4 1119.1 L1028.1 1120.2 L1028.8 1119.7 L1029.6 1120.7 L1030.4 1119.7 L1031.1 1119.9 L1031.9 1120.0 L1032.7 1121.1 L1033.5 1119.6 L1034.3 1120.5 L1035.1 1119.4 L1035.9 1120.2 L1036.7 1119.5 L1037.6 1121.0 L1038.4 1119.5 L1039.2 1120.9 L1040.1 1120.5 L1040.9 1120.0 L1041.7 1121.1 L1042.6 1119.8 L1043.4 1120.7 L1044.3 1120.3 L1045.1 1120.0 L1046.0 1119.0 L1046.8 1119.9 L1047.7 1119.6 L1048.5 1120.0 L1049.3 1121.3 L1050.2 1119.6 L1051.0 1120.6 L1051.9 1120.6 L1052.7 1119.5 L1053.5 1119.9 L1054.4 1119.3 L1055.2 1121.2 L1056.0 1119.6 L1056.8 1120.0 L1057.6 1119.8 L1058.4 1121.0 L1059.2 1121.1 L1060.0 1120.4 L1060.8 1120.3 L1061.6 1119.2 L1062.4 1121.2 L1063.1 1119.2 L1063.9 1119.9 L1064.7 1119.9 L1065.5 1120.8 L1066.3 1120.6 L1067.1 1119.8 L1067.8 1121.2 L1068.6 1121.4 L1069.4 1119.1 L1070.2 1120.6 L1071.0 1120.2 L1071.8 1119.9 L1072.5 1120.2 L1073.3 1119.8 L1074.1 1120.7 L1074.9 1120.5 L1075.7 1121.4 L1076.5 1121.4 L1077.3 1121.5 L1078.0 1120.0 L1078.8 1121.1 L1079.6 1120.6 L1080.4 1120.8 L1081.2 1121.5 L1082.0 1119.2 L1082.7 1120.2 L1083.5 1120.0 L1084.3 1120.7 L1085.1 1119.6 L1085.9 1121.5 L1086.7 1119.6 L1087.5 1120.0 L1088.2 1119.4 L1089.0 1120.0 L1089.8 1120.9 L1090.6 1119.3 L1091.4 1119.5 L1092.2 1120.7 L1092.9 1120.6 L1093.7 1120.9 L1094.5 1119.7 L1095.3 1121.1 L1096.1 1120.9 L1096.9 1121.0 L1097.6 1119.3 L1098.4 1120.2 L1099.2 1119.1 L1100.0 1121.2 L1100.8 1121.4 L1101.6 1121.3 L1102.5 1119.1 L1103.3 1119.9 L1104.2 1120.4 L1105.1 1120.4 L1106.0 1119.3 L1106.9 1121.0 L1107.8 1119.8 L1108.7 1120.3 L1109.7 1119.4 L1110.6 1120.5 L1111.6 1119.4 L1112.5 1119.3 L1113.5 1120.3 L1114.4 1119.8 L1115.4 1121.0 L1116.3 1119.7 L1117.3 1120.1 L1118.2 1119.2 L1119.2 1119.6 L1120.1 1120.2 L1121.0 1120.4 L1122.0 1120.2 L1122.9 1121.2 L1123.8 1119.3 L1124.7 1121.2 L1125.6 1119.4 L1126.5 1121.5 L1127.3 1120.4 L1128.2 1120.1 L1129.0 1120.6 L1129.8 1121.2 L1130.6 1121.5 L1131.4 1120.1 L1132.2 1119.1 L1132.9 1119.4 L1133.6 1121.1 L1134.3 1120.9 L1135.0 1120.8 L1135.6 1119.4 L1136.2 1120.4 L1136.8 1119.1 L1137.4 1119.3 L1137.9 1119.8 L1138.4 1121.5 L1138.8 1120.7 L1139.3 1121.2 L1139.6 1119.2 L1140.0 1120.1 L1140.9 1119.3 L1141.7 1119.7 L1142.4 1119.4 L1143.1 1120.9 L1143.6 1120.1 L1144.2 1120.0 M1148.2 1110.2 L1148.8 1109.4 L1149.4 1109.5 L1150.2 1109.6 L1150.9 1109.7 L1151.6 1109.5 L1152.3 1109.7 L1153.1 1109.7 L1153.9 1109.0 L1154.6 1110.5 L1155.2 1109.7 M1159.2 1120.0 L1159.8 1120.4 L1160.3 1120.2 L1160.9 1119.2 L1161.5 1120.1 L1162.3 1121.4 L1163.1 1119.1 L1164.0 1120.5 L1164.3 1121.4 L1164.7 1120.0 L1165.0 1120.5 L1165.4 1120.0 L1165.8 1119.8 L1166.3 1120.6 L1166.7 1120.5 L1167.2 1119.8 L1167.7 1120.3 L1168.2 1120.3 L1168.8 1120.9 L1169.3 1119.2 L1169.9 1119.3 L1170.5 1119.7 L1171.2 1119.7 L1171.8 1121.0 L1172.5 1120.1 L1173.1 1121.2 L1173.8 1120.0 L1174.5 1119.8 L1175.2 1120.7 L1176.0 1119.3 L1176.7 1121.5 L1177.5 1121.1 L1178.3 1119.9 L1179.1 1119.8 L1179.9 1121.1 L1180.7 1121.0 L1181.5 1120.6 L1182.3 1119.2 L1183.2 1120.9 L1184.0 1119.1 L1184.9 1120.6 L1185.8 1120.4 L1186.7 1121.3 L1187.6 1120.6 L1188.5 1119.1 L1189.4 1121.3 L1190.3 1120.9 L1191.2 1120.5 L1192.1 1119.0 L1193.1 1120.8 L1194.0 1120.0 L1194.9 1120.7 L1195.9 1121.5 L1196.8 1121.3 L1197.8 1119.2 L1198.7 1120.9 L1199.7 1120.1 L1200.6 1120.9 L1201.6 1119.9 L1202.5 1120.1 L1203.5 1120.1 L1204.4 1119.3 L1205.4 1119.8 L1206.3 1120.8 L1207.3 1119.2 L1208.2 1119.3 L1209.2 1121.1 L1210.1 1120.6 L1211.0 1120.3 L1212.0 1119.3 L1212.9 1119.3 L1213.8 1119.7 L1214.7 1121.3 L1215.6 1120.4 L1216.5 1121.3 L1217.4 1119.5 L1218.3 1120.0 L1219.1 1120.3 L1220.0 1121.0 L1220.7 1119.3 L1221.5 1121.1 L1222.2 1120.1 L1222.9 1119.0 L1223.7 1120.0 L1224.5 1119.9 L1225.2 1120.6 L1226.0 1121.3 L1226.8 1120.2 L1227.6 1120.7 L1228.4 1119.9 L1229.2 1120.9 L1230.0 1119.2 L1230.8 1120.8 L1231.6 1119.3 L1232.5 1120.4 L1233.3 1119.4 L1234.1 1119.8 L1235.0 1119.3 L1235.8 1119.8 L1236.7 1120.4 L1237.5 1120.2 L1238.4 1119.9 L1239.2 1120.4 L1240.1 1121.0 L1241.0 1119.8 L1241.8 1120.4 L1242.7 1120.1 L1243.6 1121.4 L1244.5 1119.7 L1245.3 1120.6 L1246.2 1119.5 L1247.1 1119.6 L1248.0 1120.7 L1248.9 1120.3 L1249.8 1119.5 L1250.7 1119.1 L1251.6 1121.0 L1252.4 1119.8 L1253.3 1120.7 L1254.2 1120.0 L1255.1 1120.4 L1256.0 1120.3 L1256.9 1121.3 L1257.8 1121.2 L1258.7 1120.0 L1259.6 1120.1 L1260.5 1119.5 L1261.3 1120.8 L1262.2 1119.1 L1263.1 1119.6 L1264.0 1121.0 L1264.9 1119.0 L1265.7 1120.6 L1266.6 1120.3 L1267.5 1120.2 L1268.3 1119.7 L1269.2 1119.2 L1270.0 1121.2 L1270.9 1120.8 L1271.8 1120.9 L1272.6 1119.1 L1273.4 1120.8 L1274.3 1119.4 L1275.1 1119.4 L1275.9 1120.2 L1276.8 1120.4 L1277.6 1119.1 L1278.4 1120.7 L1279.2 1120.3 L1280.0 1121.1 L1280.8 1121.1 L1281.6 1120.6 L1282.3 1119.7 L1283.1 1121.2 L1283.9 1120.6 L1284.6 1119.6 L1285.4 1121.0 L1286.1 1120.6 L1286.8 1119.5 L1287.6 1119.4 L1288.3 1118.9 L1289.0 1120.1 L1289.7 1119.4 L1290.4 1119.5 L1291.1 1119.4 L1291.7 1119.1 L1292.4 1120.0 L1293.0 1119.5 L1293.7 1119.5 L1294.3 1119.5 L1294.9 1120.1 L1295.5 1121.0 L1296.1 1119.2 L1296.7 1120.9 L1297.3 1120.9 L1297.9 1120.3 L1298.4 1120.1 L1299.0 1120.6 L1299.5 1120.1 L1300.0 1120.4 L1301.0 1121.0 L1301.9 1120.7 L1302.8 1119.4 L1303.7 1118.9 L1304.6 1121.0 L1305.4 1119.6 L1306.2 1120.6 L1307.0 1119.3 L1307.8 1119.8 L1308.5 1119.6 L1309.2 1120.4 L1310.0 1120.9 L1310.7 1119.8 L1311.4 1120.0 L1312.1 1119.4 L1312.8 1119.1 L1313.5 1120.8 L1314.2 1118.8 L1314.9 1120.7 L1315.6 1120.0 L1316.3 1118.6 L1317.0 1120.6 L1317.7 1118.7 L1318.5 1119.7 L1319.2 1118.6 L1320.0 1120.6 L1320.8 1119.0 L1321.6 1120.3 L1322.4 1118.4 L1323.2 1119.7 L1324.0 1118.3 L1324.8 1118.2 L1325.7 1119.4 L1326.5 1120.2 L1327.3 1119.5 L1328.2 1119.8 L1329.0 1119.6 L1329.9 1119.0 L1330.7 1117.9 L1331.5 1118.8 L1332.3 1118.0 L1333.1 1118.7 L1333.9 1118.2 L1334.7 1118.5 L1335.5 1117.8 L1336.2 1118.7 L1337.0 1118.0 L1337.7 1118.0 L1338.3 1117.2 L1339.0 1117.8 L1339.6 1117.8 L1340.2 1118.3 L1340.8 1117.6 L1341.6 1116.9 L1342.3 1116.9 L1343.1 1116.6 L1343.8 1116.3 L1344.4 1115.8 L1345.1 1115.4 L1345.7 1114.9 L1346.3 1114.3 L1346.9 1113.8 L1347.5 1113.3 L1348.1 1112.7 L1348.6 1112.2 L1349.2 1111.7 L1349.8 1111.2 L1350.3 1110.7 L1350.8 1110.2 L1351.3 1109.6 L1351.9 1109.1 L1352.4 1108.6 M1383.3 1107.1 L1383.9 1107.8 L1384.6 1108.5 L1385.3 1109.1 L1385.9 1109.6 L1386.6 1110.1 L1387.2 1110.3 L1387.8 1110.9 L1388.3 1111.3 L1388.9 1110.7 L1389.4 1110.4 L1390.0 1109.9 M1408.3 1118.3 L1408.9 1118.5 L1409.5 1118.8 L1410.1 1119.3 L1410.8 1119.1 L1411.6 1120.0 L1412.4 1118.4 L1413.2 1118.8 L1414.0 1118.5 L1414.7 1119.0 L1415.3 1120.1 L1416.0 1120.5 L1416.7 1119.5 L1417.4 1118.8 L1418.1 1119.2 L1418.8 1119.8 L1419.6 1119.1 L1420.4 1120.3 L1421.2 1120.8 L1422.1 1119.6 L1423.0 1119.9 L1424.0 1120.5 L1425.0 1119.6 L1425.5 1118.9 L1426.0 1120.8 L1426.5 1120.9 L1427.0 1118.5 L1427.6 1120.4 L1428.1 1119.5 L1428.7 1118.6 L1429.3 1118.9 L1429.9 1118.9 L1430.5 1120.3 L1431.1 1119.0 L1431.8 1118.6 L1432.4 1119.1 L1433.1 1120.5 L1433.8 1119.8 L1434.5 1120.2 L1435.2 1119.7 L1435.9 1119.0 L1436.6 1118.6 L1437.3 1119.3 L1438.1 1118.7 L1438.9 1119.2 L1439.6 1120.1 L1440.4 1119.5 L1441.2 1119.7 L1442.0 1120.1 L1442.8 1119.4 L1443.6 1119.5 L1444.4 1120.8 L1445.2 1120.0 L1446.1 1119.6 L1446.9 1119.9 L1447.8 1119.7 L1448.6 1119.4 L1449.5 1120.9 L1450.4 1119.2 L1451.2 1120.9 L1452.1 1120.7 L1453.0 1120.8 L1453.9 1119.0 L1454.8 1119.9 L1455.7 1121.1 L1456.6 1119.3 L1457.5 1119.0 L1458.4 1120.4 L1459.3 1119.2 L1460.2 1120.1 L1461.1 1119.0 L1462.0 1121.0 L1462.9 1119.3 L1463.8 1118.9 L1464.7 1120.4 L1465.6 1119.5 L1466.5 1120.0 L1467.5 1119.9 L1468.4 1120.9 L1469.3 1119.9 L1470.2 1119.6 L1471.1 1118.7 L1472.0 1119.9 L1472.9 1119.3 L1473.8 1120.1 L1474.7 1120.2 L1475.6 1119.8 L1476.5 1118.9 L1477.4 1119.9 L1478.3 1119.9 L1479.1 1120.3 L1480.0 1121.1 L1480.7 1119.4 L1481.4 1119.8 L1482.2 1118.9 L1482.9 1120.6 L1483.6 1119.2 L1484.4 1120.7 L1485.1 1120.6 L1485.8 1119.3 L1486.6 1120.9 L1487.3 1119.9 L1488.1 1119.7 L1488.9 1120.0 L1489.6 1121.0 L1490.4 1119.9 L1491.1 1119.9 L1491.9 1119.4 L1492.7 1120.7 L1493.4 1119.9 L1494.2 1119.5 L1495.0 1119.1 L1495.8 1119.2 L1496.6 1120.7 L1497.4 1120.7 L1498.1 1121.1 L1498.9 1120.9 L1499.7 1120.4 L1500.5 1120.6 L1501.3 1120.4 L1502.1 1120.7 L1502.9 1120.6 L1503.7 1119.1 L1504.5 1120.7 L1505.3 1119.4 L1506.1 1119.2 L1506.9 1120.9 L1507.7 1118.7 L1508.6 1119.9 L1509.4 1119.5 L1510.2 1120.6 L1511.0 1120.2 L1511.8 1120.9 L1512.6 1121.0 L1513.4 1120.2 L1514.3 1118.8 L1515.1 1120.3 L1515.9 1118.9 L1516.7 1121.1 L1517.5 1120.8 L1518.4 1119.4 L1519.2 1119.1 L1520.0 1120.4 L1520.8 1120.5 L1521.6 1121.1 L1522.5 1120.2 L1523.3 1118.9 L1524.1 1120.4 L1524.9 1118.8 L1525.8 1120.8 L1526.6 1120.5 L1527.4 1120.6 L1528.2 1120.8 L1529.0 1120.0 L1529.9 1121.0 L1530.7 1120.2 L1531.5 1119.8 L1532.3 1119.6 L1533.1 1119.5 L1534.0 1118.7 L1534.8 1119.0 L1535.6 1120.6 L1536.4 1119.2 L1537.2 1120.2 L1538.0 1120.5 L1538.8 1120.3 L1539.7 1119.9 L1540.5 1119.4 L1541.3 1119.3 L1542.1 1119.1 L1542.9 1120.2 L1543.7 1120.3 L1544.5 1120.9 L1545.3 1119.4 L1546.1 1120.9 L1546.9 1120.8 L1547.7 1119.3 L1548.4 1120.9 L1549.2 1120.1 L1550.0 1121.0 L1550.8 1120.5 L1551.6 1119.4 L1552.4 1119.3 L1553.1 1119.9 L1553.9 1119.8 L1554.7 1118.7 L1555.5 1120.7 L1556.2 1119.9 L1557.0 1119.7 L1557.7 1120.4 L1558.5 1119.2 L1559.2 1119.1 L1560.0 1120.0 L1560.8 1119.2 L1561.7 1119.4 L1562.5 1118.7 L1563.3 1118.7 L1564.2 1119.4 L1565.0 1119.9 L1565.8 1120.9 L1566.6 1120.1 L1567.5 1119.6 L1568.3 1119.6 L1569.1 1119.1 L1569.9 1119.7 L1570.7 1120.9 L1571.5 1118.8 L1572.3 1119.6 L1573.2 1120.2 L1574.0 1120.4 L1574.8 1119.9 L1575.6 1120.1 L1576.4 1120.9 L1577.2 1120.8 L1578.0 1119.1 L1578.8 1119.9 L1579.6 1121.0 L1580.4 1119.8 L1581.2 1119.0 L1582.0 1120.4 L1582.8 1118.6 L1583.6 1118.9 L1584.4 1119.9 L1585.1 1119.2 L1585.9 1120.3 L1586.7 1120.3 L1587.5 1119.3 L1588.3 1120.4 L1589.1 1120.1 L1589.9 1120.2 L1590.7 1119.6 L1591.5 1119.5 L1592.2 1118.7 L1593.0 1119.6 L1593.8 1120.8 L1594.6 1120.7 L1595.4 1118.6 L1596.2 1118.6 L1596.9 1119.1 L1597.7 1120.2 L1598.5 1119.5 L1599.3 1118.8 L1600.1 1119.5 L1600.8 1119.9 L1601.6 1120.3 L1602.4 1119.4 L1603.2 1120.0 L1604.0 1120.1 L1604.7 1120.0 L1605.5 1118.5 L1606.3 1120.2 L1607.1 1118.7 L1607.9 1118.5 L1608.7 1119.6 L1609.4 1118.4 L1610.2 1118.6 L1611.0 1119.4 L1611.8 1119.6 L1612.6 1118.7 L1613.4 1120.8 L1614.1 1120.5 L1614.9 1119.6 L1615.7 1119.8 L1616.5 1119.2 L1617.3 1120.8 L1618.1 1118.7 L1618.9 1119.1 L1619.6 1118.9 L1620.4 1120.5 L1621.2 1119.6 L1622.0 1119.4 L1622.8 1119.4 L1623.6 1120.6 L1624.4 1119.0" fill="none" stroke="#ff22ff" stroke-width="5.0" stroke-linejoin="round" stroke-linecap="butt"/>
</g>
<g id="bars" filter="url(#soft)">
<g opacity="0.62">
<rect x="409.8" y="1058.1" width="10.0" height="187.9" fill="#0000fe"/>
<rect x="593.2" y="998.7" width="10.0" height="247.3" fill="#0000fe"/>
<rect x="641.4" y="1119.1" width="10.0" height="126.9" fill="#0000fe"/>
<rect x="719.6" y="1241.6" width="10.0" height="4.4" fill="#0000fe"/>
<rect x="748.4" y="1014.1" width="10.0" height="231.9" fill="#0000fe"/>
<rect x="761.6" y="998.7" width="10.0" height="247.3" fill="#fba900"/>
<rect x="802.0" y="1237.7" width="10.0" height="8.3" fill="#0000fe"/>
<rect x="899.9" y="1139.4" width="10.0" height="106.6" fill="#fba900"/>
<rect x="924.1" y="1126.9" width="10.0" height="119.1" fill="#0000fe"/>
<rect x="1020.0" y="1014.1" width="10.0" height="231.9" fill="#0000fe"/>
<rect x="1059.8" y="1235.8" width="10.0" height="10.2" fill="#0000fe"/>
<rect x="1087.0" y="1233.5" width="10.0" height="12.5" fill="#0000fe"/>
<rect x="1095.0" y="1227.5" width="10.0" height="18.5" fill="#0000fe"/>
<rect x="1190.3" y="1156.5" width="10.0" height="89.5" fill="#0000fe"/>
<rect x="1221.5" y="1116.5" width="10.0" height="129.5" fill="#0000fe"/>
<rect x="1265.7" y="1239.3" width="10.0" height="6.7" fill="#0000fe"/>
<rect x="1342.9" y="1239.3" width="10.0" height="6.7" fill="#0000fe"/>
<rect x="1362.7" y="1202.1" width="10.0" height="43.9" fill="#fba900"/>
<rect x="1394.5" y="1205.0" width="10.0" height="41.0" fill="#0000fe"/>
<rect x="1400.6" y="1215.6" width="10.0" height="30.4" fill="#0000fe"/>
<rect x="1459.9" y="1226.1" width="10.0" height="19.9" fill="#0000fe"/>
<rect x="1510.9" y="1238.3" width="10.0" height="7.7" fill="#0000fe"/>
<rect x="1530.9" y="1231.9" width="10.0" height="14.1" fill="#0000fe"/>
<rect x="1545.3" y="1241.6" width="10.0" height="4.4" fill="#0000fe"/>
<rect x="1568.6" y="1233.9" width="10.0" height="12.1" fill="#0000fe"/>
<rect x="1576.7" y="1236.4" width="10.0" height="9.6" fill="#0000fe"/>
</g>
<g opacity="0.55">
<rect x="411.6" y="1055.9" width="6.4" height="2.2" fill="#0000fe"/>
<rect x="595.0" y="996.5" width="6.4" height="2.2" fill="#0000fe"/>
<rect x="643.2" y="1116.9" width="6.4" height="2.2" fill="#0000fe"/>
<rect x="721.4" y="1239.4" width="6.4" height="2.2" fill="#0000fe"/>
<rect x="750.2" y="1011.9" width="6.4" height="2.2" fill="#0000fe"/>
<rect x="763.4" y="996.5" width="6.4" height="2.2" fill="#fba900"/>
<rect x="803.8" y="1235.5" width="6.4" height="2.2" fill="#0000fe"/>
<rect x="901.7" y="1137.2" width="6.4" height="2.2" fill="#fba900"/>
<rect x="925.9" y="1124.7" width="6.4" height="2.2" fill="#0000fe"/>
<rect x="1021.8" y="1011.9" width="6.4" height="2.2" fill="#0000fe"/>
<rect x="1061.6" y="1233.6" width="6.4" height="2.2" fill="#0000fe"/>
<rect x="1088.8" y="1231.3" width="6.4" height="2.2" fill="#0000fe"/>
<rect x="1096.8" y="1225.3" width="6.4" height="2.2" fill="#0000fe"/>
<rect x="1192.1" y="1154.3" width="6.4" height="2.2" fill="#0000fe"/>
<rect x="1223.3" y="1114.3" width="6.4" height="2.2" fill="#0000fe"/>
<rect x="1267.5" y="1237.1" width="6.4" height="2.2" fill="#0000fe"/>
<rect x="1344.7" y="1237.1" width="6.4" height="2.2" fill="#0000fe"/>
<rect x="1364.5" y="1199.9" width="6.4" height="2.2" fill="#fba900"/>
<rect x="1396.3" y="1202.8" width="6.4" height="2.2" fill="#0000fe"/>
<rect x="1402.4" y="1213.4" width="6.4" height="2.2" fill="#0000fe"/>
<rect x="1461.7" y="1223.9" width="6.4" height="2.2" fill="#0000fe"/>
<rect x="1512.7" y="1236.1" width="6.4" height="2.2" fill="#0000fe"/>
<rect x="1532.7" y="1229.7" width="6.4" height="2.2" fill="#0000fe"/>
<rect x="1547.1" y="1239.4" width="6.4" height="2.2" fill="#0000fe"/>
<rect x="1570.4" y="1231.7" width="6.4" height="2.2" fill="#0000fe"/>
<rect x="1578.5" y="1234.2" width="6.4" height="2.2" fill="#0000fe"/>
</g>
<g>
<rect x="411.6" y="1057.9" width="6.4" height="188.1" fill="#0000fe"/>
<rect x="595.0" y="998.5" width="6.4" height="247.5" fill="#0000fe"/>
<rect x="643.2" y="1118.9" width="6.4" height="127.1" fill="#0000fe"/>
<rect x="721.4" y="1241.4" width="6.4" height="4.6" fill="#0000fe"/>
<rect x="750.2" y="1013.9" width="6.4" height="232.1" fill="#0000fe"/>
<rect x="763.4" y="998.5" width="6.4" height="247.5" fill="#fba900"/>
<rect x="803.8" y="1237.5" width="6.4" height="8.5" fill="#0000fe"/>
<rect x="901.7" y="1139.2" width="6.4" height="106.8" fill="#fba900"/>
<rect x="925.9" y="1126.7" width="6.4" height="119.3" fill="#0000fe"/>
<rect x="1021.8" y="1013.9" width="6.4" height="232.1" fill="#0000fe"/>
<rect x="1061.6" y="1235.6" width="6.4" height="10.4" fill="#0000fe"/>
<rect x="1088.8" y="1233.3" width="6.4" height="12.7" fill="#0000fe"/>
<rect x="1096.8" y="1227.3" width="6.4" height="18.7" fill="#0000fe"/>
<rect x="1192.1" y="1156.3" width="6.4" height="89.7" fill="#0000fe"/>
<rect x="1223.3" y="1116.3" width="6.4" height="129.7" fill="#0000fe"/>
<rect x="1267.5" y="1239.1" width="6.4" height="6.9" fill="#0000fe"/>
<rect x="1344.7" y="1239.1" width="6.4" height="6.9" fill="#0000fe"/>
<rect x="1364.5" y="1201.9" width="6.4" height="44.1" fill="#fba900"/>
<rect x="1396.3" y="1204.8" width="6.4" height="41.2" fill="#0000fe"/>
<rect x="1402.4" y="1215.4" width="6.4" height="30.6" fill="#0000fe"/>
<rect x="1461.7" y="1225.9" width="6.4" height="20.1" fill="#0000fe"/>
<rect x="1512.7" y="1238.1" width="6.4" height="7.9" fill="#0000fe"/>
<rect x="1532.7" y="1231.7" width="6.4" height="14.3" fill="#0000fe"/>
<rect x="1547.1" y="1241.4" width="6.4" height="4.6" fill="#0000fe"/>
<rect x="1570.4" y="1233.7" width="6.4" height="12.3" fill="#0000fe"/>
<rect x="1578.5" y="1236.2" width="6.4" height="9.8" fill="#0000fe"/>
</g>
</g>
<g id="labels" filter="url(#soft)">
<text transform="translate(291.9 1014.4) scale(1.0000 1)" font-size="42.7" font-weight="bold" fill="#0000ff">Al2O3(012)</text>
<text transform="translate(495.9 919.4) scale(1.0000 1)" font-size="42.7" font-weight="bold" fill="#0000ff">Al2O3(012)</text>
<text transform="translate(549.7 974.6) scale(1.0000 1)" font-size="42.7" font-weight="bold" fill="#0000ff">Al2O3(110)</text>
<text transform="translate(943.3 988.0) scale(1.0000 1)" font-size="42.7" font-weight="bold" fill="#0000ff">Al2O3(116)</text>
<text transform="translate(1162.3 975.9) scale(1.0000 1)" font-size="42.7" font-weight="bold" fill="#0000ff">Al2O3(300)</text>
<text transform="translate(1110.5 1080.2) scale(1.0000 1)" font-size="42.7" font-weight="bold" fill="#0000ff">Al2O3(214)</text>
<text transform="translate(1405.9 1082.0) scale(1.0000 1)" font-size="42.7" font-weight="bold" fill="#0000ff">Al2O3(119)</text>
<text transform="translate(615.6 661.4) scale(1.0000 1)" font-size="42.7" font-weight="bold" fill="#fca700">Ni(111)</text>
<text transform="translate(919.9 659.6) scale(1.0000 1)" font-size="42.7" font-weight="bold" fill="#fca700">Ni(200)</text>
<text transform="translate(1263.7 1039.6) scale(1.0000 1)" font-size="42.7" font-weight="bold" fill="#fca700">Ni(222)</text>
<text transform="translate(907.1 121.6) scale(0.9830 1)" font-size="57.5" font-weight="bold" fill="#ff00ff" word-spacing="2.54">XRD after composite plating</text>
<text transform="translate(1196.8 218.0) scale(0.9660 1)" font-size="65.1" font-weight="bold" fill="#fca700">PDF#87-0712</text>
<text transform="translate(1198.0 298.0) scale(0.9660 1)" font-size="65.1" font-weight="bold" fill="#0000ff">PDF#85-1337</text>
<text transform="translate(726.0 1401.5) scale(0.9850 1)" font-size="64.9" font-weight="bold" fill="#000">2θ(degree)</text>
<text transform="translate(64.0 826.8) rotate(-90) scale(0.99 1)" x="-1.9" y="0" font-size="64.3" font-weight="bold" fill="#000">Intensity(a.u.)</text>
<text transform="translate(115.8 1313.8) scale(0.95 1)" font-size="53.5" fill="#000" stroke="#fff" stroke-width="1.15" stroke-linejoin="round" text-anchor="middle">10</text>
<text transform="translate(304.4 1313.8) scale(0.95 1)" font-size="53.5" fill="#000" stroke="#fff" stroke-width="1.15" stroke-linejoin="round" text-anchor="middle">20</text>
<text transform="translate(493.1 1313.8) scale(0.95 1)" font-size="53.5" fill="#000" stroke="#fff" stroke-width="1.15" stroke-linejoin="round" text-anchor="middle">30</text>
<text transform="translate(681.7 1313.8) scale(0.95 1)" font-size="53.5" fill="#000" stroke="#fff" stroke-width="1.15" stroke-linejoin="round" text-anchor="middle">40</text>
<text transform="translate(870.3 1313.8) scale(0.95 1)" font-size="53.5" fill="#000" stroke="#fff" stroke-width="1.15" stroke-linejoin="round" text-anchor="middle">50</text>
<text transform="translate(1058.9 1313.8) scale(0.95 1)" font-size="53.5" fill="#000" stroke="#fff" stroke-width="1.15" stroke-linejoin="round" text-anchor="middle">60</text>
<text transform="translate(1247.5 1313.8) scale(0.95 1)" font-size="53.5" fill="#000" stroke="#fff" stroke-width="1.15" stroke-linejoin="round" text-anchor="middle">70</text>
<text transform="translate(1436.2 1313.8) scale(0.95 1)" font-size="53.5" fill="#000" stroke="#fff" stroke-width="1.15" stroke-linejoin="round" text-anchor="middle">80</text>
<text transform="translate(1624.8 1313.8) scale(0.95 1)" font-size="53.5" fill="#000" stroke="#fff" stroke-width="1.15" stroke-linejoin="round" text-anchor="middle">90</text>
</g>
</svg>
</body>
</html>
